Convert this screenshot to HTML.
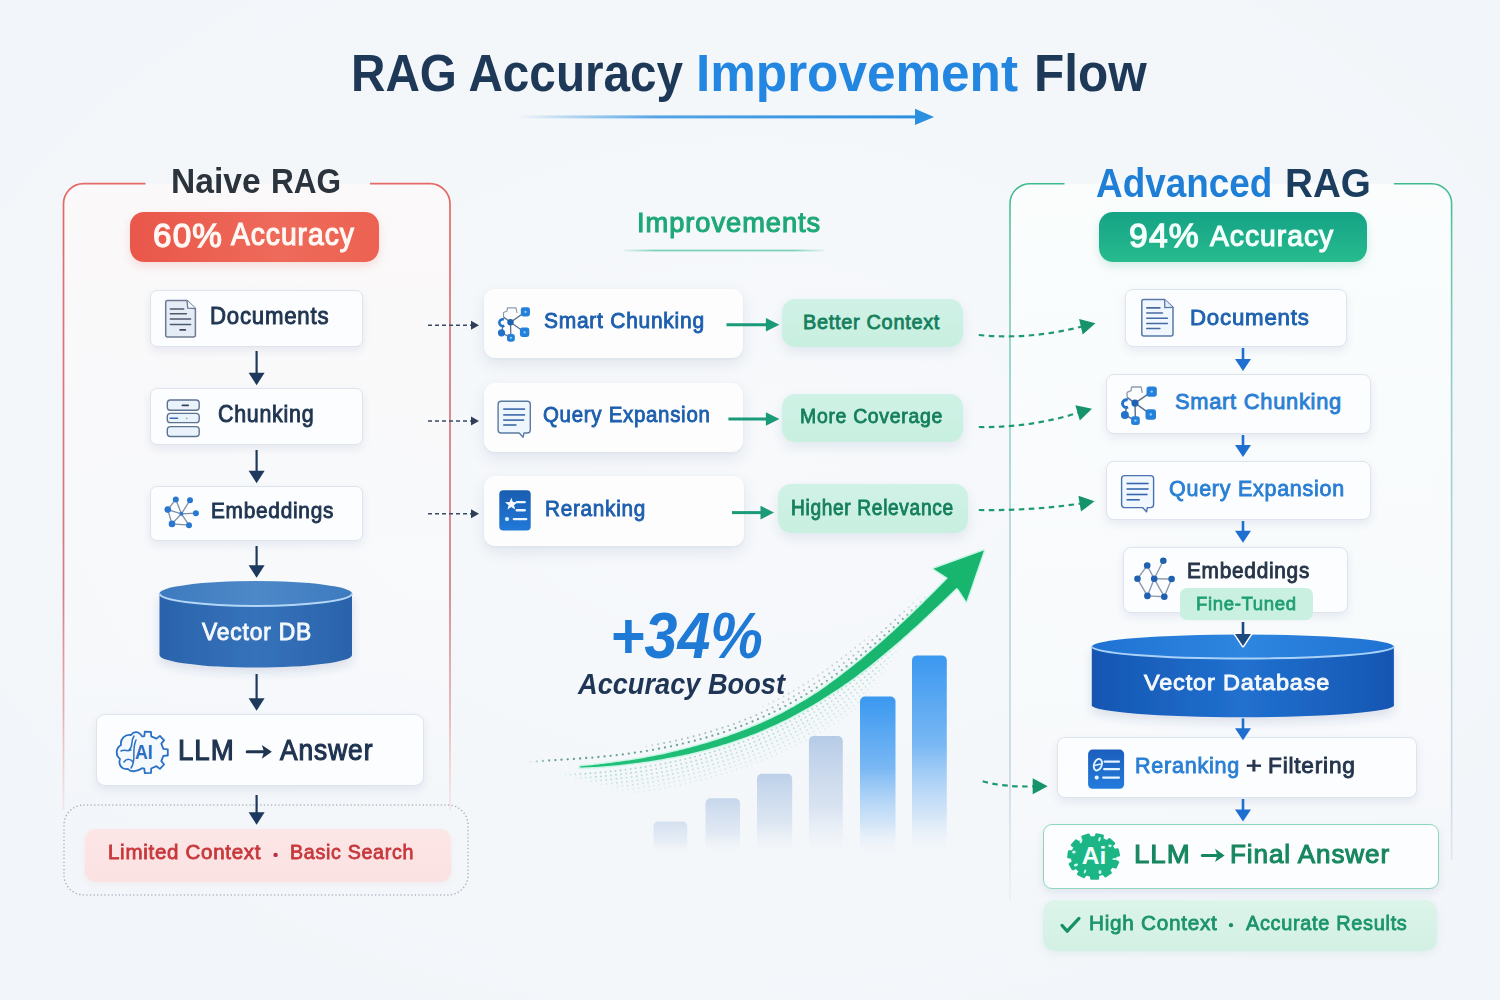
<!DOCTYPE html>
<html><head><meta charset="utf-8"><title>RAG Accuracy Improvement Flow</title>
<style>
html,body{margin:0;padding:0}
body{width:1500px;height:1000px;overflow:hidden;position:relative;font-family:"Liberation Sans",sans-serif;
 background:radial-gradient(ellipse 1100px 750px at 50% 45%, #f7f9fb 0%, #f4f7fa 50%, #f2f5f9 100%);}
.a{position:absolute}
.t{position:absolute;white-space:pre;line-height:1;transform-origin:0 0}
.box{position:absolute;box-sizing:border-box;background:#fcfdfe;border:1px solid #dde4ee;border-radius:7px;box-shadow:0 4px 10px rgba(40,70,130,.09)}
.card{position:absolute;box-sizing:border-box;background:#fdfdfe;border-radius:11px;box-shadow:0 6px 16px rgba(40,70,130,.10),0 1px 3px rgba(40,70,130,.05)}
.gp{position:absolute;box-sizing:border-box;border-radius:13px;background:linear-gradient(180deg,#d0f2e6,#c8efe0);box-shadow:0 5px 12px rgba(40,90,140,.10)}
svg{position:absolute;left:0;top:0;overflow:visible}

</style></head>
<body>
<svg width="1500" height="1000" viewBox="0 0 1500 1000" style="z-index:0">
<defs>
 <linearGradient id="redB" gradientUnits="userSpaceOnUse" x1="0" y1="183" x2="0" y2="810">
  <stop offset="0" stop-color="#e36a66"/><stop offset="0.3" stop-color="#da7479"/><stop offset="0.65" stop-color="#d27d82"/><stop offset="0.85" stop-color="#e09a9c" stop-opacity="0.75"/><stop offset="1" stop-color="#f0b8b8" stop-opacity="0.25"/>
 </linearGradient>
 <linearGradient id="redFill" gradientUnits="userSpaceOnUse" x1="0" y1="183" x2="0" y2="810">
  <stop offset="0" stop-color="#fdf9f9" stop-opacity="0.8"/><stop offset="0.6" stop-color="#fbfbfc" stop-opacity="0.5"/><stop offset="1" stop-color="#ffffff" stop-opacity="0"/>
 </linearGradient>
 <linearGradient id="grnB" gradientUnits="userSpaceOnUse" x1="0" y1="183" x2="0" y2="900">
  <stop offset="0" stop-color="#3dba8c"/><stop offset="0.1" stop-color="#6cc6ac"/><stop offset="0.3" stop-color="#92d0c6"/><stop offset="0.55" stop-color="#b5d3da"/><stop offset="0.85" stop-color="#ccd9e3"/><stop offset="1" stop-color="#d5dfe8" stop-opacity="0.3"/>
 </linearGradient>
 <linearGradient id="grnFill" gradientUnits="userSpaceOnUse" x1="0" y1="183" x2="0" y2="900">
  <stop offset="0" stop-color="#fbfefd" stop-opacity="0.9"/><stop offset="0.7" stop-color="#fafcfd" stop-opacity="0.6"/><stop offset="1" stop-color="#ffffff" stop-opacity="0"/>
 </linearGradient>
 <linearGradient id="ttlArr" x1="0" y1="0" x2="1" y2="0">
  <stop offset="0" stop-color="#2a8fe0" stop-opacity="0"/><stop offset="0.35" stop-color="#2a8fe0" stop-opacity="0.8"/><stop offset="1" stop-color="#2a8fe0"/>
 </linearGradient>
 <linearGradient id="impLine" x1="0" y1="0" x2="1" y2="0">
  <stop offset="0" stop-color="#8fd8c0" stop-opacity="0.2"/><stop offset="0.15" stop-color="#7fd2b8"/><stop offset="0.85" stop-color="#7fd2b8"/><stop offset="1" stop-color="#8fd8c0" stop-opacity="0.2"/>
 </linearGradient>
 <linearGradient id="barG" x1="0" y1="0" x2="0" y2="1">
  <stop offset="0" stop-color="#b3c9e6"/><stop offset="0.6" stop-color="#cbd9ec" stop-opacity="0.7"/><stop offset="1" stop-color="#e8eef6" stop-opacity="0"/>
 </linearGradient>
 <linearGradient id="barB" x1="0" y1="0" x2="0" y2="1">
  <stop offset="0" stop-color="#3a98f0"/><stop offset="0.45" stop-color="#7ab8f4"/><stop offset="0.8" stop-color="#c6def7" stop-opacity="0.7"/><stop offset="1" stop-color="#eef3f9" stop-opacity="0"/>
 </linearGradient>
 <linearGradient id="gArr" gradientUnits="userSpaceOnUse" x1="580" y1="0" x2="960" y2="0">
  <stop offset="0" stop-color="#22c07a"/><stop offset="1" stop-color="#17b36c"/>
 </linearGradient>
 <linearGradient id="cylL" x1="0" y1="0" x2="1" y2="0">
  <stop offset="0" stop-color="#2a63ab"/><stop offset="0.5" stop-color="#3572ba"/><stop offset="1" stop-color="#2a63ab"/>
 </linearGradient>
 <linearGradient id="cylLt" x1="0" y1="0" x2="1" y2="0">
  <stop offset="0" stop-color="#3d7abf"/><stop offset="0.5" stop-color="#4d89c8"/><stop offset="1" stop-color="#3d7abf"/>
 </linearGradient>
 <linearGradient id="cylR" x1="0" y1="0" x2="1" y2="0">
  <stop offset="0" stop-color="#1556b2"/><stop offset="0.5" stop-color="#2170cf"/><stop offset="1" stop-color="#1556b2"/>
 </linearGradient>
 <linearGradient id="cylRt" x1="0" y1="0" x2="1" y2="0">
  <stop offset="0" stop-color="#1f72d2"/><stop offset="0.5" stop-color="#2e86e0"/><stop offset="1" stop-color="#1f72d2"/>
 </linearGradient>
 <filter id="sh" x="-20%" y="-20%" width="140%" height="160%"><feDropShadow dx="0" dy="5" stdDeviation="5" flood-color="#2a4a80" flood-opacity="0.14"/></filter>
</defs>
<!-- panels -->
<path d="M145.5,183.7 H83.5 A20,20 0 0 0 63.5,203.7 V810 H450 V203.7 A20,20 0 0 0 430,183.7 H370 Z" fill="url(#redFill)"/>
<path d="M145.5,183.7 H83.5 A20,20 0 0 0 63.5,203.7 V810" fill="none" stroke="url(#redB)" stroke-width="1.7"/>
<path d="M370,183.7 H430 A20,20 0 0 1 450,203.7 V810" fill="none" stroke="url(#redB)" stroke-width="1.7"/>
<path d="M1064.5,183.7 H1030 A20,20 0 0 0 1010,203.7 V900 H1451.6 V203.7 A20,20 0 0 0 1431.6,183.7 H1394 Z" fill="url(#grnFill)"/>
<path d="M1064.5,183.7 H1030 A20,20 0 0 0 1010,203.7 V900" fill="none" stroke="url(#grnB)" stroke-width="1.6"/>
<path d="M1394,183.7 H1431.6 A20,20 0 0 1 1451.6,203.7 V860" fill="none" stroke="url(#grnB)" stroke-width="1.6"/>
<rect x="64" y="805" width="404" height="90" rx="20" fill="none" stroke="#a3adba" stroke-width="1.5" stroke-dasharray="0.01 3.6" stroke-linecap="round"/>
<!-- title arrow -->
<rect x="516" y="115.4" width="402" height="3" fill="url(#ttlArr)"/>
<path d="M915,108.7 L934,116.9 L915,125.1 Z" fill="#2a8fe0"/>
<!-- improvements underline -->
<rect x="624" y="249.6" width="200" height="1.8" fill="url(#impLine)"/>
<!-- bars -->
<rect x="653.6" y="821.4" width="33.7" height="33" rx="5" fill="url(#barG)" opacity="0.5"/>
<rect x="705.5" y="798.3" width="34.5" height="56" rx="5" fill="url(#barG)" opacity="0.7"/>
<rect x="757" y="773.7" width="35.2" height="81" rx="5" fill="url(#barG)" opacity="0.85"/>
<rect x="808.9" y="736.1" width="33.9" height="119" rx="5" fill="url(#barG)" opacity="0.95"/>
<rect x="860" y="696.5" width="35.5" height="160" rx="5" fill="url(#barB)"/>
<rect x="912" y="655.4" width="34.8" height="200" rx="5" fill="url(#barB)"/>
<!-- curve dots + arrow -->
<circle cx="530.6" cy="761.8" r="1.15" fill="#3f8a72" opacity="0.11"/>
<circle cx="536.8" cy="761.4" r="1.15" fill="#3f8a72" opacity="0.32"/>
<circle cx="543.0" cy="760.9" r="1.15" fill="#3f8a72" opacity="0.52"/>
<circle cx="549.2" cy="760.5" r="1.15" fill="#3f8a72" opacity="0.73"/>
<circle cx="555.4" cy="760.1" r="1.15" fill="#3f8a72" opacity="0.83"/>
<circle cx="561.5" cy="759.7" r="1.15" fill="#3f8a72" opacity="0.83"/>
<circle cx="567.7" cy="759.3" r="1.15" fill="#3f8a72" opacity="0.83"/>
<circle cx="573.9" cy="758.9" r="1.15" fill="#3f8a72" opacity="0.82"/>
<circle cx="580.1" cy="758.5" r="1.15" fill="#3f8a72" opacity="0.82"/>
<circle cx="586.2" cy="758.0" r="1.15" fill="#3f8a72" opacity="0.81"/>
<circle cx="592.3" cy="757.6" r="1.15" fill="#3f8a72" opacity="0.81"/>
<circle cx="598.4" cy="757.0" r="1.15" fill="#3f8a72" opacity="0.81"/>
<circle cx="604.5" cy="756.4" r="1.15" fill="#3f8a72" opacity="0.80"/>
<circle cx="610.6" cy="755.8" r="1.15" fill="#3f8a72" opacity="0.80"/>
<circle cx="616.7" cy="755.1" r="1.15" fill="#3f8a72" opacity="0.79"/>
<circle cx="622.8" cy="754.4" r="1.15" fill="#3f8a72" opacity="0.79"/>
<circle cx="628.8" cy="753.6" r="1.15" fill="#3f8a72" opacity="0.79"/>
<circle cx="634.9" cy="752.7" r="1.15" fill="#3f8a72" opacity="0.78"/>
<circle cx="641.0" cy="751.8" r="1.15" fill="#3f8a72" opacity="0.78"/>
<circle cx="647.0" cy="750.8" r="1.15" fill="#3f8a72" opacity="0.78"/>
<circle cx="653.0" cy="749.8" r="1.15" fill="#3f8a72" opacity="0.77"/>
<circle cx="659.0" cy="748.7" r="1.15" fill="#3f8a72" opacity="0.77"/>
<circle cx="665.0" cy="747.5" r="1.15" fill="#3f8a72" opacity="0.76"/>
<circle cx="671.0" cy="746.3" r="1.15" fill="#3f8a72" opacity="0.76"/>
<circle cx="677.0" cy="745.0" r="1.15" fill="#3f8a72" opacity="0.76"/>
<circle cx="682.9" cy="743.6" r="1.15" fill="#3f8a72" opacity="0.75"/>
<circle cx="688.8" cy="742.2" r="1.15" fill="#3f8a72" opacity="0.75"/>
<circle cx="694.8" cy="740.7" r="1.15" fill="#3f8a72" opacity="0.75"/>
<circle cx="700.6" cy="739.1" r="1.15" fill="#3f8a72" opacity="0.74"/>
<circle cx="706.5" cy="737.5" r="1.15" fill="#3f8a72" opacity="0.74"/>
<circle cx="712.4" cy="735.7" r="1.15" fill="#3f8a72" opacity="0.74"/>
<circle cx="718.2" cy="733.9" r="1.15" fill="#3f8a72" opacity="0.73"/>
<circle cx="724.0" cy="732.1" r="1.15" fill="#3f8a72" opacity="0.73"/>
<circle cx="729.7" cy="730.1" r="1.15" fill="#3f8a72" opacity="0.72"/>
<circle cx="735.5" cy="728.1" r="1.15" fill="#3f8a72" opacity="0.72"/>
<circle cx="741.2" cy="726.0" r="1.15" fill="#3f8a72" opacity="0.72"/>
<circle cx="746.8" cy="723.8" r="1.15" fill="#3f8a72" opacity="0.71"/>
<circle cx="752.5" cy="721.5" r="1.15" fill="#3f8a72" opacity="0.71"/>
<circle cx="758.0" cy="719.2" r="1.15" fill="#3f8a72" opacity="0.71"/>
<circle cx="763.6" cy="716.7" r="1.15" fill="#3f8a72" opacity="0.70"/>
<circle cx="769.1" cy="714.2" r="1.15" fill="#3f8a72" opacity="0.70"/>
<circle cx="774.6" cy="711.6" r="1.15" fill="#3f8a72" opacity="0.70"/>
<circle cx="780.0" cy="708.9" r="1.15" fill="#3f8a72" opacity="0.69"/>
<circle cx="785.4" cy="706.1" r="1.15" fill="#3f8a72" opacity="0.69"/>
<circle cx="790.7" cy="703.2" r="1.15" fill="#3f8a72" opacity="0.69"/>
<circle cx="796.0" cy="700.2" r="1.15" fill="#3f8a72" opacity="0.68"/>
<circle cx="801.3" cy="697.2" r="1.15" fill="#3f8a72" opacity="0.68"/>
<circle cx="806.5" cy="694.1" r="1.15" fill="#3f8a72" opacity="0.68"/>
<circle cx="811.6" cy="690.9" r="1.15" fill="#3f8a72" opacity="0.67"/>
<circle cx="816.8" cy="687.6" r="1.15" fill="#3f8a72" opacity="0.67"/>
<circle cx="821.8" cy="684.2" r="1.15" fill="#3f8a72" opacity="0.67"/>
<circle cx="826.9" cy="680.8" r="1.15" fill="#3f8a72" opacity="0.66"/>
<circle cx="831.9" cy="677.3" r="1.15" fill="#3f8a72" opacity="0.66"/>
<circle cx="836.8" cy="673.8" r="1.15" fill="#3f8a72" opacity="0.66"/>
<circle cx="841.8" cy="670.2" r="1.15" fill="#3f8a72" opacity="0.65"/>
<circle cx="846.6" cy="666.5" r="1.15" fill="#3f8a72" opacity="0.65"/>
<circle cx="851.5" cy="662.8" r="1.15" fill="#3f8a72" opacity="0.65"/>
<circle cx="856.3" cy="659.0" r="1.15" fill="#3f8a72" opacity="0.65"/>
<circle cx="861.1" cy="655.2" r="1.15" fill="#3f8a72" opacity="0.64"/>
<circle cx="865.8" cy="651.3" r="1.15" fill="#3f8a72" opacity="0.64"/>
<circle cx="870.5" cy="647.4" r="1.15" fill="#3f8a72" opacity="0.64"/>
<circle cx="875.2" cy="643.4" r="1.15" fill="#3f8a72" opacity="0.63"/>
<circle cx="879.9" cy="639.4" r="1.15" fill="#3f8a72" opacity="0.63"/>
<circle cx="884.5" cy="635.4" r="1.15" fill="#3f8a72" opacity="0.63"/>
<circle cx="889.1" cy="631.3" r="1.15" fill="#3f8a72" opacity="0.62"/>
<circle cx="893.7" cy="627.2" r="1.15" fill="#3f8a72" opacity="0.62"/>
<circle cx="898.2" cy="623.1" r="1.15" fill="#3f8a72" opacity="0.62"/>
<circle cx="902.8" cy="618.9" r="1.15" fill="#3f8a72" opacity="0.62"/>
<circle cx="907.3" cy="614.8" r="1.15" fill="#3f8a72" opacity="0.54"/>
<circle cx="911.7" cy="610.5" r="1.15" fill="#3f8a72" opacity="0.43"/>
<circle cx="916.2" cy="606.3" r="1.15" fill="#3f8a72" opacity="0.31"/>
<circle cx="920.7" cy="602.0" r="1.15" fill="#3f8a72" opacity="0.20"/>
<circle cx="925.1" cy="597.7" r="1.15" fill="#3f8a72" opacity="0.10"/>
<circle cx="640.3" cy="747.3" r="1.00" fill="#5d8f85" opacity="0.05"/>
<circle cx="646.2" cy="746.4" r="1.00" fill="#5d8f85" opacity="0.18"/>
<circle cx="652.2" cy="745.3" r="1.00" fill="#5d8f85" opacity="0.32"/>
<circle cx="658.2" cy="744.2" r="1.00" fill="#5d8f85" opacity="0.45"/>
<circle cx="664.1" cy="743.1" r="1.00" fill="#5d8f85" opacity="0.55"/>
<circle cx="670.1" cy="741.9" r="1.00" fill="#5d8f85" opacity="0.54"/>
<circle cx="676.0" cy="740.6" r="1.00" fill="#5d8f85" opacity="0.54"/>
<circle cx="681.9" cy="739.2" r="1.00" fill="#5d8f85" opacity="0.54"/>
<circle cx="687.8" cy="737.8" r="1.00" fill="#5d8f85" opacity="0.54"/>
<circle cx="693.6" cy="736.3" r="1.00" fill="#5d8f85" opacity="0.54"/>
<circle cx="699.5" cy="734.8" r="1.00" fill="#5d8f85" opacity="0.54"/>
<circle cx="705.3" cy="733.1" r="1.00" fill="#5d8f85" opacity="0.54"/>
<circle cx="711.1" cy="731.4" r="1.00" fill="#5d8f85" opacity="0.54"/>
<circle cx="716.8" cy="729.6" r="1.00" fill="#5d8f85" opacity="0.54"/>
<circle cx="722.5" cy="727.8" r="1.00" fill="#5d8f85" opacity="0.54"/>
<circle cx="728.2" cy="725.9" r="1.00" fill="#5d8f85" opacity="0.53"/>
<circle cx="733.9" cy="723.9" r="1.00" fill="#5d8f85" opacity="0.53"/>
<circle cx="739.6" cy="721.8" r="1.00" fill="#5d8f85" opacity="0.53"/>
<circle cx="745.2" cy="719.6" r="1.00" fill="#5d8f85" opacity="0.53"/>
<circle cx="750.7" cy="717.4" r="1.00" fill="#5d8f85" opacity="0.53"/>
<circle cx="756.3" cy="715.0" r="1.00" fill="#5d8f85" opacity="0.53"/>
<circle cx="761.8" cy="712.6" r="1.00" fill="#5d8f85" opacity="0.53"/>
<circle cx="767.2" cy="710.1" r="1.00" fill="#5d8f85" opacity="0.53"/>
<circle cx="772.6" cy="707.5" r="1.00" fill="#5d8f85" opacity="0.53"/>
<circle cx="778.0" cy="704.9" r="1.00" fill="#5d8f85" opacity="0.53"/>
<circle cx="783.3" cy="702.1" r="1.00" fill="#5d8f85" opacity="0.52"/>
<circle cx="788.6" cy="699.3" r="1.00" fill="#5d8f85" opacity="0.52"/>
<circle cx="793.8" cy="696.3" r="1.00" fill="#5d8f85" opacity="0.52"/>
<circle cx="799.0" cy="693.3" r="1.00" fill="#5d8f85" opacity="0.52"/>
<circle cx="804.1" cy="690.2" r="1.00" fill="#5d8f85" opacity="0.52"/>
<circle cx="809.2" cy="687.1" r="1.00" fill="#5d8f85" opacity="0.52"/>
<circle cx="814.3" cy="683.8" r="1.00" fill="#5d8f85" opacity="0.52"/>
<circle cx="819.3" cy="680.5" r="1.00" fill="#5d8f85" opacity="0.52"/>
<circle cx="824.3" cy="677.1" r="1.00" fill="#5d8f85" opacity="0.52"/>
<circle cx="829.3" cy="673.6" r="1.00" fill="#5d8f85" opacity="0.52"/>
<circle cx="834.2" cy="670.1" r="1.00" fill="#5d8f85" opacity="0.52"/>
<circle cx="839.1" cy="666.5" r="1.00" fill="#5d8f85" opacity="0.51"/>
<circle cx="843.9" cy="662.9" r="1.00" fill="#5d8f85" opacity="0.51"/>
<circle cx="848.7" cy="659.2" r="1.00" fill="#5d8f85" opacity="0.51"/>
<circle cx="853.5" cy="655.5" r="1.00" fill="#5d8f85" opacity="0.51"/>
<circle cx="858.3" cy="651.7" r="1.00" fill="#5d8f85" opacity="0.51"/>
<circle cx="863.0" cy="647.8" r="1.00" fill="#5d8f85" opacity="0.51"/>
<circle cx="867.7" cy="643.9" r="1.00" fill="#5d8f85" opacity="0.51"/>
<circle cx="872.3" cy="640.0" r="1.00" fill="#5d8f85" opacity="0.51"/>
<circle cx="876.9" cy="636.0" r="1.00" fill="#5d8f85" opacity="0.51"/>
<circle cx="881.5" cy="632.0" r="1.00" fill="#5d8f85" opacity="0.51"/>
<circle cx="886.1" cy="628.0" r="1.00" fill="#5d8f85" opacity="0.51"/>
<circle cx="890.7" cy="623.9" r="1.00" fill="#5d8f85" opacity="0.51"/>
<circle cx="895.2" cy="619.8" r="1.00" fill="#5d8f85" opacity="0.50"/>
<circle cx="899.7" cy="615.6" r="1.00" fill="#5d8f85" opacity="0.43"/>
<circle cx="904.2" cy="611.5" r="1.00" fill="#5d8f85" opacity="0.34"/>
<circle cx="908.7" cy="607.3" r="1.00" fill="#5d8f85" opacity="0.25"/>
<circle cx="913.1" cy="603.0" r="1.00" fill="#5d8f85" opacity="0.16"/>
<circle cx="917.5" cy="598.8" r="1.00" fill="#5d8f85" opacity="0.07"/>
<circle cx="758.0" cy="708.8" r="0.90" fill="#7a9a95" opacity="0.07"/>
<circle cx="763.2" cy="706.5" r="0.90" fill="#7a9a95" opacity="0.15"/>
<circle cx="768.4" cy="704.0" r="0.90" fill="#7a9a95" opacity="0.23"/>
<circle cx="773.5" cy="701.5" r="0.90" fill="#7a9a95" opacity="0.32"/>
<circle cx="778.6" cy="698.9" r="0.90" fill="#7a9a95" opacity="0.37"/>
<circle cx="783.6" cy="696.3" r="0.90" fill="#7a9a95" opacity="0.37"/>
<circle cx="788.7" cy="693.5" r="0.90" fill="#7a9a95" opacity="0.38"/>
<circle cx="793.6" cy="690.7" r="0.90" fill="#7a9a95" opacity="0.38"/>
<circle cx="798.6" cy="687.7" r="0.90" fill="#7a9a95" opacity="0.39"/>
<circle cx="803.5" cy="684.8" r="0.90" fill="#7a9a95" opacity="0.39"/>
<circle cx="808.3" cy="681.7" r="0.90" fill="#7a9a95" opacity="0.39"/>
<circle cx="813.2" cy="678.6" r="0.90" fill="#7a9a95" opacity="0.40"/>
<circle cx="818.0" cy="675.4" r="0.90" fill="#7a9a95" opacity="0.40"/>
<circle cx="822.8" cy="672.1" r="0.90" fill="#7a9a95" opacity="0.41"/>
<circle cx="827.5" cy="668.8" r="0.90" fill="#7a9a95" opacity="0.41"/>
<circle cx="832.2" cy="665.4" r="0.90" fill="#7a9a95" opacity="0.41"/>
<circle cx="836.9" cy="662.0" r="0.90" fill="#7a9a95" opacity="0.42"/>
<circle cx="841.5" cy="658.5" r="0.90" fill="#7a9a95" opacity="0.42"/>
<circle cx="846.1" cy="654.9" r="0.90" fill="#7a9a95" opacity="0.42"/>
<circle cx="850.7" cy="651.3" r="0.90" fill="#7a9a95" opacity="0.43"/>
<circle cx="855.3" cy="647.7" r="0.90" fill="#7a9a95" opacity="0.40"/>
<circle cx="859.8" cy="644.0" r="0.90" fill="#7a9a95" opacity="0.33"/>
<circle cx="864.3" cy="640.2" r="0.90" fill="#7a9a95" opacity="0.25"/>
<circle cx="868.8" cy="636.5" r="0.90" fill="#7a9a95" opacity="0.17"/>
<circle cx="873.2" cy="632.6" r="0.90" fill="#7a9a95" opacity="0.09"/>
<circle cx="565.4" cy="775.0" r="0.95" fill="#6fc3a8" opacity="0.12"/>
<circle cx="570.4" cy="774.7" r="0.95" fill="#6fc3a8" opacity="0.24"/>
<circle cx="575.3" cy="774.3" r="0.95" fill="#6fc3a8" opacity="0.35"/>
<circle cx="580.3" cy="774.0" r="0.95" fill="#6fc3a8" opacity="0.47"/>
<circle cx="585.4" cy="773.7" r="0.95" fill="#6fc3a8" opacity="0.59"/>
<circle cx="590.4" cy="773.3" r="0.95" fill="#6fc3a8" opacity="0.59"/>
<circle cx="595.4" cy="772.9" r="0.95" fill="#6fc3a8" opacity="0.59"/>
<circle cx="600.5" cy="772.4" r="0.95" fill="#6fc3a8" opacity="0.59"/>
<circle cx="605.5" cy="771.9" r="0.95" fill="#6fc3a8" opacity="0.59"/>
<circle cx="610.5" cy="771.4" r="0.95" fill="#6fc3a8" opacity="0.59"/>
<circle cx="615.5" cy="770.9" r="0.95" fill="#6fc3a8" opacity="0.58"/>
<circle cx="620.5" cy="770.3" r="0.95" fill="#6fc3a8" opacity="0.58"/>
<circle cx="625.5" cy="769.6" r="0.95" fill="#6fc3a8" opacity="0.58"/>
<circle cx="630.6" cy="769.0" r="0.95" fill="#6fc3a8" opacity="0.58"/>
<circle cx="635.6" cy="768.3" r="0.95" fill="#6fc3a8" opacity="0.58"/>
<circle cx="640.6" cy="767.5" r="0.95" fill="#6fc3a8" opacity="0.58"/>
<circle cx="645.6" cy="766.7" r="0.95" fill="#6fc3a8" opacity="0.58"/>
<circle cx="650.5" cy="765.9" r="0.95" fill="#6fc3a8" opacity="0.57"/>
<circle cx="655.5" cy="765.1" r="0.95" fill="#6fc3a8" opacity="0.57"/>
<circle cx="660.5" cy="764.2" r="0.95" fill="#6fc3a8" opacity="0.57"/>
<circle cx="665.5" cy="763.2" r="0.95" fill="#6fc3a8" opacity="0.57"/>
<circle cx="670.4" cy="762.2" r="0.95" fill="#6fc3a8" opacity="0.57"/>
<circle cx="675.4" cy="761.2" r="0.95" fill="#6fc3a8" opacity="0.57"/>
<circle cx="680.3" cy="760.1" r="0.95" fill="#6fc3a8" opacity="0.57"/>
<circle cx="685.3" cy="759.0" r="0.95" fill="#6fc3a8" opacity="0.56"/>
<circle cx="690.2" cy="757.8" r="0.95" fill="#6fc3a8" opacity="0.56"/>
<circle cx="695.1" cy="756.6" r="0.95" fill="#6fc3a8" opacity="0.56"/>
<circle cx="700.0" cy="755.3" r="0.95" fill="#6fc3a8" opacity="0.56"/>
<circle cx="704.9" cy="754.0" r="0.95" fill="#6fc3a8" opacity="0.56"/>
<circle cx="709.8" cy="752.6" r="0.95" fill="#6fc3a8" opacity="0.56"/>
<circle cx="714.7" cy="751.2" r="0.95" fill="#6fc3a8" opacity="0.56"/>
<circle cx="719.5" cy="749.7" r="0.95" fill="#6fc3a8" opacity="0.55"/>
<circle cx="724.4" cy="748.2" r="0.95" fill="#6fc3a8" opacity="0.55"/>
<circle cx="729.2" cy="746.7" r="0.95" fill="#6fc3a8" opacity="0.55"/>
<circle cx="734.0" cy="745.0" r="0.95" fill="#6fc3a8" opacity="0.55"/>
<circle cx="738.8" cy="743.3" r="0.95" fill="#6fc3a8" opacity="0.55"/>
<circle cx="743.6" cy="741.6" r="0.95" fill="#6fc3a8" opacity="0.55"/>
<circle cx="748.3" cy="739.8" r="0.95" fill="#6fc3a8" opacity="0.55"/>
<circle cx="753.1" cy="738.0" r="0.95" fill="#6fc3a8" opacity="0.54"/>
<circle cx="757.8" cy="736.1" r="0.95" fill="#6fc3a8" opacity="0.54"/>
<circle cx="762.5" cy="734.1" r="0.95" fill="#6fc3a8" opacity="0.54"/>
<circle cx="767.2" cy="732.1" r="0.95" fill="#6fc3a8" opacity="0.54"/>
<circle cx="771.8" cy="730.0" r="0.95" fill="#6fc3a8" opacity="0.54"/>
<circle cx="776.4" cy="727.9" r="0.95" fill="#6fc3a8" opacity="0.54"/>
<circle cx="781.0" cy="725.7" r="0.95" fill="#6fc3a8" opacity="0.54"/>
<circle cx="785.6" cy="723.4" r="0.95" fill="#6fc3a8" opacity="0.54"/>
<circle cx="790.1" cy="721.1" r="0.95" fill="#6fc3a8" opacity="0.53"/>
<circle cx="794.6" cy="718.7" r="0.95" fill="#6fc3a8" opacity="0.53"/>
<circle cx="799.1" cy="716.3" r="0.95" fill="#6fc3a8" opacity="0.53"/>
<circle cx="803.5" cy="713.8" r="0.95" fill="#6fc3a8" opacity="0.53"/>
<circle cx="807.9" cy="711.3" r="0.95" fill="#6fc3a8" opacity="0.53"/>
<circle cx="812.3" cy="708.7" r="0.95" fill="#6fc3a8" opacity="0.53"/>
<circle cx="816.6" cy="706.0" r="0.95" fill="#6fc3a8" opacity="0.53"/>
<circle cx="820.9" cy="703.3" r="0.95" fill="#6fc3a8" opacity="0.53"/>
<circle cx="825.2" cy="700.6" r="0.95" fill="#6fc3a8" opacity="0.52"/>
<circle cx="829.4" cy="697.8" r="0.95" fill="#6fc3a8" opacity="0.52"/>
<circle cx="833.7" cy="694.9" r="0.95" fill="#6fc3a8" opacity="0.52"/>
<circle cx="837.8" cy="692.1" r="0.95" fill="#6fc3a8" opacity="0.52"/>
<circle cx="842.0" cy="689.2" r="0.95" fill="#6fc3a8" opacity="0.52"/>
<circle cx="846.1" cy="686.2" r="0.95" fill="#6fc3a8" opacity="0.52"/>
<circle cx="850.2" cy="683.2" r="0.95" fill="#6fc3a8" opacity="0.52"/>
<circle cx="854.2" cy="680.2" r="0.95" fill="#6fc3a8" opacity="0.52"/>
<circle cx="858.3" cy="677.1" r="0.95" fill="#6fc3a8" opacity="0.51"/>
<circle cx="862.3" cy="674.0" r="0.95" fill="#6fc3a8" opacity="0.51"/>
<circle cx="866.2" cy="670.9" r="0.95" fill="#6fc3a8" opacity="0.51"/>
<circle cx="870.2" cy="667.7" r="0.95" fill="#6fc3a8" opacity="0.51"/>
<circle cx="874.1" cy="664.6" r="0.95" fill="#6fc3a8" opacity="0.51"/>
<circle cx="878.0" cy="661.3" r="0.95" fill="#6fc3a8" opacity="0.51"/>
<circle cx="881.9" cy="658.1" r="0.95" fill="#6fc3a8" opacity="0.51"/>
<circle cx="885.7" cy="654.8" r="0.95" fill="#6fc3a8" opacity="0.48"/>
<circle cx="889.6" cy="651.6" r="0.95" fill="#6fc3a8" opacity="0.40"/>
<circle cx="893.4" cy="648.3" r="0.95" fill="#6fc3a8" opacity="0.33"/>
<circle cx="897.2" cy="644.9" r="0.95" fill="#6fc3a8" opacity="0.25"/>
<circle cx="900.9" cy="641.6" r="0.95" fill="#6fc3a8" opacity="0.18"/>
<circle cx="904.7" cy="638.2" r="0.95" fill="#6fc3a8" opacity="0.10"/>
<circle cx="908.4" cy="634.8" r="0.95" fill="#6fc3a8" opacity="0.03"/>
<circle cx="575.6" cy="778.3" r="0.95" fill="#6fc3a8" opacity="0.10"/>
<circle cx="580.6" cy="778.0" r="0.95" fill="#6fc3a8" opacity="0.21"/>
<circle cx="585.7" cy="777.6" r="0.95" fill="#6fc3a8" opacity="0.31"/>
<circle cx="590.7" cy="777.3" r="0.95" fill="#6fc3a8" opacity="0.42"/>
<circle cx="595.8" cy="776.8" r="0.95" fill="#6fc3a8" opacity="0.52"/>
<circle cx="600.8" cy="776.4" r="0.95" fill="#6fc3a8" opacity="0.52"/>
<circle cx="605.9" cy="775.9" r="0.95" fill="#6fc3a8" opacity="0.52"/>
<circle cx="610.9" cy="775.4" r="0.95" fill="#6fc3a8" opacity="0.52"/>
<circle cx="616.0" cy="774.8" r="0.95" fill="#6fc3a8" opacity="0.52"/>
<circle cx="621.0" cy="774.2" r="0.95" fill="#6fc3a8" opacity="0.52"/>
<circle cx="626.1" cy="773.6" r="0.95" fill="#6fc3a8" opacity="0.51"/>
<circle cx="631.1" cy="772.9" r="0.95" fill="#6fc3a8" opacity="0.51"/>
<circle cx="636.1" cy="772.2" r="0.95" fill="#6fc3a8" opacity="0.51"/>
<circle cx="641.2" cy="771.5" r="0.95" fill="#6fc3a8" opacity="0.51"/>
<circle cx="646.2" cy="770.7" r="0.95" fill="#6fc3a8" opacity="0.51"/>
<circle cx="651.2" cy="769.9" r="0.95" fill="#6fc3a8" opacity="0.51"/>
<circle cx="656.2" cy="769.0" r="0.95" fill="#6fc3a8" opacity="0.51"/>
<circle cx="661.2" cy="768.1" r="0.95" fill="#6fc3a8" opacity="0.51"/>
<circle cx="666.2" cy="767.1" r="0.95" fill="#6fc3a8" opacity="0.50"/>
<circle cx="671.2" cy="766.1" r="0.95" fill="#6fc3a8" opacity="0.50"/>
<circle cx="676.2" cy="765.1" r="0.95" fill="#6fc3a8" opacity="0.50"/>
<circle cx="681.2" cy="764.0" r="0.95" fill="#6fc3a8" opacity="0.50"/>
<circle cx="686.2" cy="762.9" r="0.95" fill="#6fc3a8" opacity="0.50"/>
<circle cx="691.2" cy="761.7" r="0.95" fill="#6fc3a8" opacity="0.50"/>
<circle cx="696.1" cy="760.5" r="0.95" fill="#6fc3a8" opacity="0.50"/>
<circle cx="701.1" cy="759.2" r="0.95" fill="#6fc3a8" opacity="0.49"/>
<circle cx="706.0" cy="757.9" r="0.95" fill="#6fc3a8" opacity="0.49"/>
<circle cx="710.9" cy="756.5" r="0.95" fill="#6fc3a8" opacity="0.49"/>
<circle cx="715.8" cy="755.0" r="0.95" fill="#6fc3a8" opacity="0.49"/>
<circle cx="720.7" cy="753.6" r="0.95" fill="#6fc3a8" opacity="0.49"/>
<circle cx="725.6" cy="752.0" r="0.95" fill="#6fc3a8" opacity="0.49"/>
<circle cx="730.5" cy="750.4" r="0.95" fill="#6fc3a8" opacity="0.49"/>
<circle cx="735.3" cy="748.8" r="0.95" fill="#6fc3a8" opacity="0.49"/>
<circle cx="740.2" cy="747.1" r="0.95" fill="#6fc3a8" opacity="0.48"/>
<circle cx="745.0" cy="745.4" r="0.95" fill="#6fc3a8" opacity="0.48"/>
<circle cx="749.8" cy="743.6" r="0.95" fill="#6fc3a8" opacity="0.48"/>
<circle cx="754.6" cy="741.7" r="0.95" fill="#6fc3a8" opacity="0.48"/>
<circle cx="759.3" cy="739.8" r="0.95" fill="#6fc3a8" opacity="0.48"/>
<circle cx="764.1" cy="737.8" r="0.95" fill="#6fc3a8" opacity="0.48"/>
<circle cx="768.8" cy="735.8" r="0.95" fill="#6fc3a8" opacity="0.48"/>
<circle cx="773.5" cy="733.7" r="0.95" fill="#6fc3a8" opacity="0.48"/>
<circle cx="778.1" cy="731.5" r="0.95" fill="#6fc3a8" opacity="0.47"/>
<circle cx="782.8" cy="729.3" r="0.95" fill="#6fc3a8" opacity="0.47"/>
<circle cx="787.4" cy="727.0" r="0.95" fill="#6fc3a8" opacity="0.47"/>
<circle cx="792.0" cy="724.7" r="0.95" fill="#6fc3a8" opacity="0.47"/>
<circle cx="796.5" cy="722.3" r="0.95" fill="#6fc3a8" opacity="0.47"/>
<circle cx="801.0" cy="719.8" r="0.95" fill="#6fc3a8" opacity="0.47"/>
<circle cx="805.5" cy="717.3" r="0.95" fill="#6fc3a8" opacity="0.47"/>
<circle cx="810.0" cy="714.7" r="0.95" fill="#6fc3a8" opacity="0.47"/>
<circle cx="814.4" cy="712.1" r="0.95" fill="#6fc3a8" opacity="0.46"/>
<circle cx="818.7" cy="709.4" r="0.95" fill="#6fc3a8" opacity="0.46"/>
<circle cx="823.1" cy="706.7" r="0.95" fill="#6fc3a8" opacity="0.46"/>
<circle cx="827.4" cy="703.9" r="0.95" fill="#6fc3a8" opacity="0.46"/>
<circle cx="831.7" cy="701.1" r="0.95" fill="#6fc3a8" opacity="0.46"/>
<circle cx="835.9" cy="698.3" r="0.95" fill="#6fc3a8" opacity="0.46"/>
<circle cx="840.1" cy="695.4" r="0.95" fill="#6fc3a8" opacity="0.46"/>
<circle cx="844.3" cy="692.4" r="0.95" fill="#6fc3a8" opacity="0.46"/>
<circle cx="848.4" cy="689.4" r="0.95" fill="#6fc3a8" opacity="0.46"/>
<circle cx="852.6" cy="686.4" r="0.95" fill="#6fc3a8" opacity="0.45"/>
<circle cx="856.6" cy="683.4" r="0.95" fill="#6fc3a8" opacity="0.45"/>
<circle cx="860.7" cy="680.3" r="0.95" fill="#6fc3a8" opacity="0.45"/>
<circle cx="864.7" cy="677.2" r="0.95" fill="#6fc3a8" opacity="0.45"/>
<circle cx="868.7" cy="674.0" r="0.95" fill="#6fc3a8" opacity="0.45"/>
<circle cx="872.7" cy="670.9" r="0.95" fill="#6fc3a8" opacity="0.45"/>
<circle cx="876.6" cy="667.7" r="0.95" fill="#6fc3a8" opacity="0.45"/>
<circle cx="880.6" cy="664.4" r="0.95" fill="#6fc3a8" opacity="0.42"/>
<circle cx="884.5" cy="661.2" r="0.95" fill="#6fc3a8" opacity="0.35"/>
<circle cx="888.3" cy="657.9" r="0.95" fill="#6fc3a8" opacity="0.28"/>
<circle cx="892.2" cy="654.6" r="0.95" fill="#6fc3a8" opacity="0.21"/>
<circle cx="896.0" cy="651.3" r="0.95" fill="#6fc3a8" opacity="0.15"/>
<circle cx="899.8" cy="647.9" r="0.95" fill="#6fc3a8" opacity="0.08"/>
<circle cx="585.9" cy="781.6" r="0.95" fill="#6fc3a8" opacity="0.09"/>
<circle cx="591.0" cy="781.2" r="0.95" fill="#6fc3a8" opacity="0.18"/>
<circle cx="596.1" cy="780.8" r="0.95" fill="#6fc3a8" opacity="0.27"/>
<circle cx="601.2" cy="780.4" r="0.95" fill="#6fc3a8" opacity="0.36"/>
<circle cx="606.3" cy="779.9" r="0.95" fill="#6fc3a8" opacity="0.45"/>
<circle cx="611.3" cy="779.4" r="0.95" fill="#6fc3a8" opacity="0.45"/>
<circle cx="616.4" cy="778.8" r="0.95" fill="#6fc3a8" opacity="0.45"/>
<circle cx="621.5" cy="778.2" r="0.95" fill="#6fc3a8" opacity="0.45"/>
<circle cx="626.6" cy="777.6" r="0.95" fill="#6fc3a8" opacity="0.45"/>
<circle cx="631.6" cy="776.9" r="0.95" fill="#6fc3a8" opacity="0.45"/>
<circle cx="636.7" cy="776.2" r="0.95" fill="#6fc3a8" opacity="0.45"/>
<circle cx="641.8" cy="775.4" r="0.95" fill="#6fc3a8" opacity="0.44"/>
<circle cx="646.8" cy="774.6" r="0.95" fill="#6fc3a8" opacity="0.44"/>
<circle cx="651.9" cy="773.8" r="0.95" fill="#6fc3a8" opacity="0.44"/>
<circle cx="656.9" cy="772.9" r="0.95" fill="#6fc3a8" opacity="0.44"/>
<circle cx="662.0" cy="772.0" r="0.95" fill="#6fc3a8" opacity="0.44"/>
<circle cx="667.0" cy="771.1" r="0.95" fill="#6fc3a8" opacity="0.44"/>
<circle cx="672.0" cy="770.1" r="0.95" fill="#6fc3a8" opacity="0.44"/>
<circle cx="677.1" cy="769.0" r="0.95" fill="#6fc3a8" opacity="0.44"/>
<circle cx="682.1" cy="767.9" r="0.95" fill="#6fc3a8" opacity="0.43"/>
<circle cx="687.1" cy="766.8" r="0.95" fill="#6fc3a8" opacity="0.43"/>
<circle cx="692.1" cy="765.6" r="0.95" fill="#6fc3a8" opacity="0.43"/>
<circle cx="697.1" cy="764.3" r="0.95" fill="#6fc3a8" opacity="0.43"/>
<circle cx="702.1" cy="763.0" r="0.95" fill="#6fc3a8" opacity="0.43"/>
<circle cx="707.0" cy="761.7" r="0.95" fill="#6fc3a8" opacity="0.43"/>
<circle cx="712.0" cy="760.3" r="0.95" fill="#6fc3a8" opacity="0.43"/>
<circle cx="717.0" cy="758.9" r="0.95" fill="#6fc3a8" opacity="0.43"/>
<circle cx="721.9" cy="757.4" r="0.95" fill="#6fc3a8" opacity="0.42"/>
<circle cx="726.8" cy="755.8" r="0.95" fill="#6fc3a8" opacity="0.42"/>
<circle cx="731.7" cy="754.2" r="0.95" fill="#6fc3a8" opacity="0.42"/>
<circle cx="736.6" cy="752.6" r="0.95" fill="#6fc3a8" opacity="0.42"/>
<circle cx="741.5" cy="750.9" r="0.95" fill="#6fc3a8" opacity="0.42"/>
<circle cx="746.4" cy="749.1" r="0.95" fill="#6fc3a8" opacity="0.42"/>
<circle cx="751.2" cy="747.3" r="0.95" fill="#6fc3a8" opacity="0.42"/>
<circle cx="756.0" cy="745.4" r="0.95" fill="#6fc3a8" opacity="0.42"/>
<circle cx="760.8" cy="743.5" r="0.95" fill="#6fc3a8" opacity="0.41"/>
<circle cx="765.6" cy="741.5" r="0.95" fill="#6fc3a8" opacity="0.41"/>
<circle cx="770.4" cy="739.4" r="0.95" fill="#6fc3a8" opacity="0.41"/>
<circle cx="775.1" cy="737.3" r="0.95" fill="#6fc3a8" opacity="0.41"/>
<circle cx="779.8" cy="735.1" r="0.95" fill="#6fc3a8" opacity="0.41"/>
<circle cx="784.5" cy="732.9" r="0.95" fill="#6fc3a8" opacity="0.41"/>
<circle cx="789.2" cy="730.6" r="0.95" fill="#6fc3a8" opacity="0.41"/>
<circle cx="793.8" cy="728.2" r="0.95" fill="#6fc3a8" opacity="0.41"/>
<circle cx="798.4" cy="725.8" r="0.95" fill="#6fc3a8" opacity="0.41"/>
<circle cx="803.0" cy="723.3" r="0.95" fill="#6fc3a8" opacity="0.40"/>
<circle cx="807.5" cy="720.8" r="0.95" fill="#6fc3a8" opacity="0.40"/>
<circle cx="812.0" cy="718.2" r="0.95" fill="#6fc3a8" opacity="0.40"/>
<circle cx="816.4" cy="715.5" r="0.95" fill="#6fc3a8" opacity="0.40"/>
<circle cx="820.8" cy="712.8" r="0.95" fill="#6fc3a8" opacity="0.40"/>
<circle cx="825.2" cy="710.1" r="0.95" fill="#6fc3a8" opacity="0.40"/>
<circle cx="829.6" cy="707.3" r="0.95" fill="#6fc3a8" opacity="0.40"/>
<circle cx="833.9" cy="704.4" r="0.95" fill="#6fc3a8" opacity="0.40"/>
<circle cx="838.2" cy="701.6" r="0.95" fill="#6fc3a8" opacity="0.40"/>
<circle cx="842.4" cy="698.6" r="0.95" fill="#6fc3a8" opacity="0.39"/>
<circle cx="846.6" cy="695.7" r="0.95" fill="#6fc3a8" opacity="0.39"/>
<circle cx="850.8" cy="692.7" r="0.95" fill="#6fc3a8" opacity="0.39"/>
<circle cx="854.9" cy="689.6" r="0.95" fill="#6fc3a8" opacity="0.39"/>
<circle cx="859.1" cy="686.6" r="0.95" fill="#6fc3a8" opacity="0.39"/>
<circle cx="863.1" cy="683.5" r="0.95" fill="#6fc3a8" opacity="0.39"/>
<circle cx="867.2" cy="680.3" r="0.95" fill="#6fc3a8" opacity="0.39"/>
<circle cx="871.2" cy="677.2" r="0.95" fill="#6fc3a8" opacity="0.39"/>
<circle cx="875.2" cy="674.0" r="0.95" fill="#6fc3a8" opacity="0.36"/>
<circle cx="879.2" cy="670.8" r="0.95" fill="#6fc3a8" opacity="0.30"/>
<circle cx="883.1" cy="667.5" r="0.95" fill="#6fc3a8" opacity="0.24"/>
<circle cx="887.0" cy="664.2" r="0.95" fill="#6fc3a8" opacity="0.18"/>
<circle cx="890.9" cy="660.9" r="0.95" fill="#6fc3a8" opacity="0.12"/>
<circle cx="894.8" cy="657.6" r="0.95" fill="#6fc3a8" opacity="0.06"/>
<circle cx="596.5" cy="784.8" r="0.95" fill="#6fc3a8" opacity="0.08"/>
<circle cx="601.6" cy="784.4" r="0.95" fill="#6fc3a8" opacity="0.15"/>
<circle cx="606.7" cy="783.9" r="0.95" fill="#6fc3a8" opacity="0.23"/>
<circle cx="611.8" cy="783.3" r="0.95" fill="#6fc3a8" opacity="0.30"/>
<circle cx="616.9" cy="782.8" r="0.95" fill="#6fc3a8" opacity="0.38"/>
<circle cx="622.0" cy="782.2" r="0.95" fill="#6fc3a8" opacity="0.38"/>
<circle cx="627.1" cy="781.5" r="0.95" fill="#6fc3a8" opacity="0.38"/>
<circle cx="632.2" cy="780.9" r="0.95" fill="#6fc3a8" opacity="0.38"/>
<circle cx="637.3" cy="780.1" r="0.95" fill="#6fc3a8" opacity="0.38"/>
<circle cx="642.4" cy="779.4" r="0.95" fill="#6fc3a8" opacity="0.38"/>
<circle cx="647.5" cy="778.6" r="0.95" fill="#6fc3a8" opacity="0.38"/>
<circle cx="652.5" cy="777.8" r="0.95" fill="#6fc3a8" opacity="0.38"/>
<circle cx="657.6" cy="776.9" r="0.95" fill="#6fc3a8" opacity="0.37"/>
<circle cx="662.7" cy="776.0" r="0.95" fill="#6fc3a8" opacity="0.37"/>
<circle cx="667.8" cy="775.0" r="0.95" fill="#6fc3a8" opacity="0.37"/>
<circle cx="672.8" cy="774.0" r="0.95" fill="#6fc3a8" opacity="0.37"/>
<circle cx="677.9" cy="772.9" r="0.95" fill="#6fc3a8" opacity="0.37"/>
<circle cx="683.0" cy="771.8" r="0.95" fill="#6fc3a8" opacity="0.37"/>
<circle cx="688.0" cy="770.7" r="0.95" fill="#6fc3a8" opacity="0.37"/>
<circle cx="693.0" cy="769.5" r="0.95" fill="#6fc3a8" opacity="0.37"/>
<circle cx="698.1" cy="768.2" r="0.95" fill="#6fc3a8" opacity="0.37"/>
<circle cx="703.1" cy="766.9" r="0.95" fill="#6fc3a8" opacity="0.36"/>
<circle cx="708.1" cy="765.6" r="0.95" fill="#6fc3a8" opacity="0.36"/>
<circle cx="713.1" cy="764.2" r="0.95" fill="#6fc3a8" opacity="0.36"/>
<circle cx="718.1" cy="762.7" r="0.95" fill="#6fc3a8" opacity="0.36"/>
<circle cx="723.1" cy="761.2" r="0.95" fill="#6fc3a8" opacity="0.36"/>
<circle cx="728.0" cy="759.7" r="0.95" fill="#6fc3a8" opacity="0.36"/>
<circle cx="733.0" cy="758.0" r="0.95" fill="#6fc3a8" opacity="0.36"/>
<circle cx="737.9" cy="756.4" r="0.95" fill="#6fc3a8" opacity="0.36"/>
<circle cx="742.8" cy="754.7" r="0.95" fill="#6fc3a8" opacity="0.35"/>
<circle cx="747.8" cy="752.9" r="0.95" fill="#6fc3a8" opacity="0.35"/>
<circle cx="752.6" cy="751.0" r="0.95" fill="#6fc3a8" opacity="0.35"/>
<circle cx="757.5" cy="749.1" r="0.95" fill="#6fc3a8" opacity="0.35"/>
<circle cx="762.4" cy="747.2" r="0.95" fill="#6fc3a8" opacity="0.35"/>
<circle cx="767.2" cy="745.2" r="0.95" fill="#6fc3a8" opacity="0.35"/>
<circle cx="772.0" cy="743.1" r="0.95" fill="#6fc3a8" opacity="0.35"/>
<circle cx="776.8" cy="740.9" r="0.95" fill="#6fc3a8" opacity="0.35"/>
<circle cx="781.5" cy="738.7" r="0.95" fill="#6fc3a8" opacity="0.35"/>
<circle cx="786.3" cy="736.5" r="0.95" fill="#6fc3a8" opacity="0.34"/>
<circle cx="791.0" cy="734.2" r="0.95" fill="#6fc3a8" opacity="0.34"/>
<circle cx="795.6" cy="731.8" r="0.95" fill="#6fc3a8" opacity="0.34"/>
<circle cx="800.3" cy="729.3" r="0.95" fill="#6fc3a8" opacity="0.34"/>
<circle cx="804.9" cy="726.8" r="0.95" fill="#6fc3a8" opacity="0.34"/>
<circle cx="809.5" cy="724.2" r="0.95" fill="#6fc3a8" opacity="0.34"/>
<circle cx="814.0" cy="721.6" r="0.95" fill="#6fc3a8" opacity="0.34"/>
<circle cx="818.5" cy="718.9" r="0.95" fill="#6fc3a8" opacity="0.34"/>
<circle cx="823.0" cy="716.2" r="0.95" fill="#6fc3a8" opacity="0.34"/>
<circle cx="827.4" cy="713.4" r="0.95" fill="#6fc3a8" opacity="0.34"/>
<circle cx="831.8" cy="710.6" r="0.95" fill="#6fc3a8" opacity="0.33"/>
<circle cx="836.1" cy="707.8" r="0.95" fill="#6fc3a8" opacity="0.33"/>
<circle cx="840.4" cy="704.9" r="0.95" fill="#6fc3a8" opacity="0.33"/>
<circle cx="844.7" cy="701.9" r="0.95" fill="#6fc3a8" opacity="0.33"/>
<circle cx="848.9" cy="698.9" r="0.95" fill="#6fc3a8" opacity="0.33"/>
<circle cx="853.1" cy="695.9" r="0.95" fill="#6fc3a8" opacity="0.33"/>
<circle cx="857.3" cy="692.9" r="0.95" fill="#6fc3a8" opacity="0.33"/>
<circle cx="861.5" cy="689.8" r="0.95" fill="#6fc3a8" opacity="0.33"/>
<circle cx="865.6" cy="686.6" r="0.95" fill="#6fc3a8" opacity="0.33"/>
<circle cx="869.6" cy="683.5" r="0.95" fill="#6fc3a8" opacity="0.30"/>
<circle cx="873.7" cy="680.3" r="0.95" fill="#6fc3a8" opacity="0.25"/>
<circle cx="877.7" cy="677.1" r="0.95" fill="#6fc3a8" opacity="0.20"/>
<circle cx="881.7" cy="673.8" r="0.95" fill="#6fc3a8" opacity="0.15"/>
<circle cx="885.7" cy="670.6" r="0.95" fill="#6fc3a8" opacity="0.10"/>
<circle cx="889.6" cy="667.3" r="0.95" fill="#6fc3a8" opacity="0.05"/>
<circle cx="607.1" cy="787.8" r="0.95" fill="#6fc3a8" opacity="0.06"/>
<circle cx="612.2" cy="787.3" r="0.95" fill="#6fc3a8" opacity="0.12"/>
<circle cx="617.3" cy="786.7" r="0.95" fill="#6fc3a8" opacity="0.19"/>
<circle cx="622.5" cy="786.1" r="0.95" fill="#6fc3a8" opacity="0.25"/>
<circle cx="627.6" cy="785.5" r="0.95" fill="#6fc3a8" opacity="0.31"/>
<circle cx="632.7" cy="784.8" r="0.95" fill="#6fc3a8" opacity="0.31"/>
<circle cx="637.8" cy="784.1" r="0.95" fill="#6fc3a8" opacity="0.31"/>
<circle cx="643.0" cy="783.3" r="0.95" fill="#6fc3a8" opacity="0.31"/>
<circle cx="648.1" cy="782.5" r="0.95" fill="#6fc3a8" opacity="0.31"/>
<circle cx="653.2" cy="781.7" r="0.95" fill="#6fc3a8" opacity="0.31"/>
<circle cx="658.3" cy="780.8" r="0.95" fill="#6fc3a8" opacity="0.31"/>
<circle cx="663.4" cy="779.9" r="0.95" fill="#6fc3a8" opacity="0.31"/>
<circle cx="668.5" cy="778.9" r="0.95" fill="#6fc3a8" opacity="0.31"/>
<circle cx="673.6" cy="777.9" r="0.95" fill="#6fc3a8" opacity="0.30"/>
<circle cx="678.7" cy="776.8" r="0.95" fill="#6fc3a8" opacity="0.30"/>
<circle cx="683.8" cy="775.7" r="0.95" fill="#6fc3a8" opacity="0.30"/>
<circle cx="688.9" cy="774.6" r="0.95" fill="#6fc3a8" opacity="0.30"/>
<circle cx="694.0" cy="773.3" r="0.95" fill="#6fc3a8" opacity="0.30"/>
<circle cx="699.1" cy="772.1" r="0.95" fill="#6fc3a8" opacity="0.30"/>
<circle cx="704.1" cy="770.8" r="0.95" fill="#6fc3a8" opacity="0.30"/>
<circle cx="709.2" cy="769.4" r="0.95" fill="#6fc3a8" opacity="0.30"/>
<circle cx="714.2" cy="768.0" r="0.95" fill="#6fc3a8" opacity="0.30"/>
<circle cx="719.2" cy="766.6" r="0.95" fill="#6fc3a8" opacity="0.30"/>
<circle cx="724.3" cy="765.0" r="0.95" fill="#6fc3a8" opacity="0.29"/>
<circle cx="729.3" cy="763.5" r="0.95" fill="#6fc3a8" opacity="0.29"/>
<circle cx="734.2" cy="761.8" r="0.95" fill="#6fc3a8" opacity="0.29"/>
<circle cx="739.2" cy="760.2" r="0.95" fill="#6fc3a8" opacity="0.29"/>
<circle cx="744.2" cy="758.4" r="0.95" fill="#6fc3a8" opacity="0.29"/>
<circle cx="749.1" cy="756.6" r="0.95" fill="#6fc3a8" opacity="0.29"/>
<circle cx="754.1" cy="754.8" r="0.95" fill="#6fc3a8" opacity="0.29"/>
<circle cx="759.0" cy="752.9" r="0.95" fill="#6fc3a8" opacity="0.29"/>
<circle cx="763.9" cy="750.9" r="0.95" fill="#6fc3a8" opacity="0.29"/>
<circle cx="768.7" cy="748.8" r="0.95" fill="#6fc3a8" opacity="0.28"/>
<circle cx="773.6" cy="746.7" r="0.95" fill="#6fc3a8" opacity="0.28"/>
<circle cx="778.4" cy="744.6" r="0.95" fill="#6fc3a8" opacity="0.28"/>
<circle cx="783.2" cy="742.4" r="0.95" fill="#6fc3a8" opacity="0.28"/>
<circle cx="788.0" cy="740.1" r="0.95" fill="#6fc3a8" opacity="0.28"/>
<circle cx="792.8" cy="737.7" r="0.95" fill="#6fc3a8" opacity="0.28"/>
<circle cx="797.5" cy="735.3" r="0.95" fill="#6fc3a8" opacity="0.28"/>
<circle cx="802.2" cy="732.8" r="0.95" fill="#6fc3a8" opacity="0.28"/>
<circle cx="806.8" cy="730.3" r="0.95" fill="#6fc3a8" opacity="0.28"/>
<circle cx="811.4" cy="727.7" r="0.95" fill="#6fc3a8" opacity="0.28"/>
<circle cx="816.0" cy="725.1" r="0.95" fill="#6fc3a8" opacity="0.28"/>
<circle cx="820.6" cy="722.4" r="0.95" fill="#6fc3a8" opacity="0.27"/>
<circle cx="825.1" cy="719.6" r="0.95" fill="#6fc3a8" opacity="0.27"/>
<circle cx="829.5" cy="716.8" r="0.95" fill="#6fc3a8" opacity="0.27"/>
<circle cx="833.9" cy="714.0" r="0.95" fill="#6fc3a8" opacity="0.27"/>
<circle cx="838.3" cy="711.1" r="0.95" fill="#6fc3a8" opacity="0.27"/>
<circle cx="842.7" cy="708.2" r="0.95" fill="#6fc3a8" opacity="0.27"/>
<circle cx="847.0" cy="705.2" r="0.95" fill="#6fc3a8" opacity="0.27"/>
<circle cx="851.2" cy="702.2" r="0.95" fill="#6fc3a8" opacity="0.27"/>
<circle cx="855.5" cy="699.2" r="0.95" fill="#6fc3a8" opacity="0.27"/>
<circle cx="859.7" cy="696.1" r="0.95" fill="#6fc3a8" opacity="0.27"/>
<circle cx="863.9" cy="693.0" r="0.95" fill="#6fc3a8" opacity="0.24"/>
<circle cx="868.0" cy="689.8" r="0.95" fill="#6fc3a8" opacity="0.20"/>
<circle cx="872.1" cy="686.6" r="0.95" fill="#6fc3a8" opacity="0.16"/>
<circle cx="876.2" cy="683.4" r="0.95" fill="#6fc3a8" opacity="0.12"/>
<circle cx="880.2" cy="680.2" r="0.95" fill="#6fc3a8" opacity="0.08"/>
<circle cx="884.2" cy="676.9" r="0.95" fill="#6fc3a8" opacity="0.03"/>
<circle cx="617.8" cy="790.7" r="0.95" fill="#6fc3a8" opacity="0.05"/>
<circle cx="622.9" cy="790.1" r="0.95" fill="#6fc3a8" opacity="0.10"/>
<circle cx="628.1" cy="789.5" r="0.95" fill="#6fc3a8" opacity="0.14"/>
<circle cx="633.3" cy="788.8" r="0.95" fill="#6fc3a8" opacity="0.19"/>
<circle cx="638.4" cy="788.1" r="0.95" fill="#6fc3a8" opacity="0.24"/>
<circle cx="643.6" cy="787.3" r="0.95" fill="#6fc3a8" opacity="0.24"/>
<circle cx="648.7" cy="786.5" r="0.95" fill="#6fc3a8" opacity="0.24"/>
<circle cx="653.9" cy="785.6" r="0.95" fill="#6fc3a8" opacity="0.24"/>
<circle cx="659.0" cy="784.7" r="0.95" fill="#6fc3a8" opacity="0.24"/>
<circle cx="664.2" cy="783.8" r="0.95" fill="#6fc3a8" opacity="0.24"/>
<circle cx="669.3" cy="782.8" r="0.95" fill="#6fc3a8" opacity="0.24"/>
<circle cx="674.4" cy="781.8" r="0.95" fill="#6fc3a8" opacity="0.24"/>
<circle cx="679.6" cy="780.7" r="0.95" fill="#6fc3a8" opacity="0.24"/>
<circle cx="684.7" cy="779.6" r="0.95" fill="#6fc3a8" opacity="0.24"/>
<circle cx="689.8" cy="778.5" r="0.95" fill="#6fc3a8" opacity="0.24"/>
<circle cx="694.9" cy="777.2" r="0.95" fill="#6fc3a8" opacity="0.23"/>
<circle cx="700.0" cy="776.0" r="0.95" fill="#6fc3a8" opacity="0.23"/>
<circle cx="705.1" cy="774.7" r="0.95" fill="#6fc3a8" opacity="0.23"/>
<circle cx="710.2" cy="773.3" r="0.95" fill="#6fc3a8" opacity="0.23"/>
<circle cx="715.3" cy="771.9" r="0.95" fill="#6fc3a8" opacity="0.23"/>
<circle cx="720.4" cy="770.4" r="0.95" fill="#6fc3a8" opacity="0.23"/>
<circle cx="725.4" cy="768.9" r="0.95" fill="#6fc3a8" opacity="0.23"/>
<circle cx="730.5" cy="767.3" r="0.95" fill="#6fc3a8" opacity="0.23"/>
<circle cx="735.5" cy="765.6" r="0.95" fill="#6fc3a8" opacity="0.23"/>
<circle cx="740.5" cy="763.9" r="0.95" fill="#6fc3a8" opacity="0.23"/>
<circle cx="745.5" cy="762.2" r="0.95" fill="#6fc3a8" opacity="0.23"/>
<circle cx="750.5" cy="760.4" r="0.95" fill="#6fc3a8" opacity="0.22"/>
<circle cx="755.5" cy="758.5" r="0.95" fill="#6fc3a8" opacity="0.22"/>
<circle cx="760.5" cy="756.6" r="0.95" fill="#6fc3a8" opacity="0.22"/>
<circle cx="765.4" cy="754.6" r="0.95" fill="#6fc3a8" opacity="0.22"/>
<circle cx="770.3" cy="752.5" r="0.95" fill="#6fc3a8" opacity="0.22"/>
<circle cx="775.2" cy="750.4" r="0.95" fill="#6fc3a8" opacity="0.22"/>
<circle cx="780.1" cy="748.2" r="0.95" fill="#6fc3a8" opacity="0.22"/>
<circle cx="784.9" cy="746.0" r="0.95" fill="#6fc3a8" opacity="0.22"/>
<circle cx="789.8" cy="743.7" r="0.95" fill="#6fc3a8" opacity="0.22"/>
<circle cx="794.6" cy="741.3" r="0.95" fill="#6fc3a8" opacity="0.22"/>
<circle cx="799.3" cy="738.9" r="0.95" fill="#6fc3a8" opacity="0.22"/>
<circle cx="804.1" cy="736.4" r="0.95" fill="#6fc3a8" opacity="0.21"/>
<circle cx="808.8" cy="733.8" r="0.95" fill="#6fc3a8" opacity="0.21"/>
<circle cx="813.4" cy="731.2" r="0.95" fill="#6fc3a8" opacity="0.21"/>
<circle cx="818.0" cy="728.5" r="0.95" fill="#6fc3a8" opacity="0.21"/>
<circle cx="822.6" cy="725.8" r="0.95" fill="#6fc3a8" opacity="0.21"/>
<circle cx="827.2" cy="723.0" r="0.95" fill="#6fc3a8" opacity="0.21"/>
<circle cx="831.7" cy="720.2" r="0.95" fill="#6fc3a8" opacity="0.21"/>
<circle cx="836.1" cy="717.3" r="0.95" fill="#6fc3a8" opacity="0.21"/>
<circle cx="840.5" cy="714.4" r="0.95" fill="#6fc3a8" opacity="0.21"/>
<circle cx="844.9" cy="711.5" r="0.95" fill="#6fc3a8" opacity="0.21"/>
<circle cx="849.3" cy="708.5" r="0.95" fill="#6fc3a8" opacity="0.21"/>
<circle cx="853.6" cy="705.5" r="0.95" fill="#6fc3a8" opacity="0.21"/>
<circle cx="857.8" cy="702.4" r="0.95" fill="#6fc3a8" opacity="0.19"/>
<circle cx="862.1" cy="699.3" r="0.95" fill="#6fc3a8" opacity="0.15"/>
<circle cx="866.3" cy="696.2" r="0.95" fill="#6fc3a8" opacity="0.12"/>
<circle cx="870.4" cy="693.0" r="0.95" fill="#6fc3a8" opacity="0.09"/>
<circle cx="874.6" cy="689.8" r="0.95" fill="#6fc3a8" opacity="0.06"/>
<circle cx="878.7" cy="686.6" r="0.95" fill="#6fc3a8" opacity="0.02"/>
<circle cx="628.6" cy="793.4" r="0.95" fill="#6fc3a8" opacity="0.03"/>
<circle cx="633.8" cy="792.7" r="0.95" fill="#6fc3a8" opacity="0.07"/>
<circle cx="639.0" cy="792.0" r="0.95" fill="#6fc3a8" opacity="0.10"/>
<circle cx="644.2" cy="791.3" r="0.95" fill="#6fc3a8" opacity="0.14"/>
<circle cx="649.4" cy="790.4" r="0.95" fill="#6fc3a8" opacity="0.17"/>
<circle cx="654.5" cy="789.6" r="0.95" fill="#6fc3a8" opacity="0.18"/>
<circle cx="659.7" cy="788.7" r="0.95" fill="#6fc3a8" opacity="0.17"/>
<circle cx="664.9" cy="787.7" r="0.95" fill="#6fc3a8" opacity="0.17"/>
<circle cx="670.1" cy="786.8" r="0.95" fill="#6fc3a8" opacity="0.17"/>
<circle cx="675.2" cy="785.7" r="0.95" fill="#6fc3a8" opacity="0.17"/>
<circle cx="680.4" cy="784.6" r="0.95" fill="#6fc3a8" opacity="0.17"/>
<circle cx="685.6" cy="783.5" r="0.95" fill="#6fc3a8" opacity="0.17"/>
<circle cx="690.7" cy="782.3" r="0.95" fill="#6fc3a8" opacity="0.17"/>
<circle cx="695.9" cy="781.1" r="0.95" fill="#6fc3a8" opacity="0.17"/>
<circle cx="701.0" cy="779.8" r="0.95" fill="#6fc3a8" opacity="0.17"/>
<circle cx="706.2" cy="778.5" r="0.95" fill="#6fc3a8" opacity="0.17"/>
<circle cx="711.3" cy="777.1" r="0.95" fill="#6fc3a8" opacity="0.17"/>
<circle cx="716.4" cy="775.7" r="0.95" fill="#6fc3a8" opacity="0.17"/>
<circle cx="721.5" cy="774.2" r="0.95" fill="#6fc3a8" opacity="0.16"/>
<circle cx="726.6" cy="772.7" r="0.95" fill="#6fc3a8" opacity="0.16"/>
<circle cx="731.7" cy="771.1" r="0.95" fill="#6fc3a8" opacity="0.16"/>
<circle cx="736.8" cy="769.4" r="0.95" fill="#6fc3a8" opacity="0.16"/>
<circle cx="741.8" cy="767.7" r="0.95" fill="#6fc3a8" opacity="0.16"/>
<circle cx="746.9" cy="766.0" r="0.95" fill="#6fc3a8" opacity="0.16"/>
<circle cx="751.9" cy="764.1" r="0.95" fill="#6fc3a8" opacity="0.16"/>
<circle cx="756.9" cy="762.2" r="0.95" fill="#6fc3a8" opacity="0.16"/>
<circle cx="761.9" cy="760.3" r="0.95" fill="#6fc3a8" opacity="0.16"/>
<circle cx="766.9" cy="758.3" r="0.95" fill="#6fc3a8" opacity="0.16"/>
<circle cx="771.9" cy="756.2" r="0.95" fill="#6fc3a8" opacity="0.16"/>
<circle cx="776.8" cy="754.1" r="0.95" fill="#6fc3a8" opacity="0.16"/>
<circle cx="781.7" cy="751.9" r="0.95" fill="#6fc3a8" opacity="0.15"/>
<circle cx="786.6" cy="749.6" r="0.95" fill="#6fc3a8" opacity="0.15"/>
<circle cx="791.5" cy="747.3" r="0.95" fill="#6fc3a8" opacity="0.15"/>
<circle cx="796.4" cy="744.9" r="0.95" fill="#6fc3a8" opacity="0.15"/>
<circle cx="801.2" cy="742.4" r="0.95" fill="#6fc3a8" opacity="0.15"/>
<circle cx="806.0" cy="739.9" r="0.95" fill="#6fc3a8" opacity="0.15"/>
<circle cx="810.7" cy="737.3" r="0.95" fill="#6fc3a8" opacity="0.15"/>
<circle cx="815.4" cy="734.7" r="0.95" fill="#6fc3a8" opacity="0.15"/>
<circle cx="820.1" cy="732.0" r="0.95" fill="#6fc3a8" opacity="0.15"/>
<circle cx="824.7" cy="729.2" r="0.95" fill="#6fc3a8" opacity="0.15"/>
<circle cx="829.3" cy="726.4" r="0.95" fill="#6fc3a8" opacity="0.15"/>
<circle cx="833.8" cy="723.6" r="0.95" fill="#6fc3a8" opacity="0.15"/>
<circle cx="838.3" cy="720.7" r="0.95" fill="#6fc3a8" opacity="0.15"/>
<circle cx="842.8" cy="717.8" r="0.95" fill="#6fc3a8" opacity="0.15"/>
<circle cx="847.2" cy="714.8" r="0.95" fill="#6fc3a8" opacity="0.14"/>
<circle cx="851.5" cy="711.8" r="0.95" fill="#6fc3a8" opacity="0.13"/>
<circle cx="855.9" cy="708.7" r="0.95" fill="#6fc3a8" opacity="0.11"/>
<circle cx="860.2" cy="705.6" r="0.95" fill="#6fc3a8" opacity="0.09"/>
<circle cx="864.4" cy="702.5" r="0.95" fill="#6fc3a8" opacity="0.06"/>
<circle cx="868.7" cy="699.4" r="0.95" fill="#6fc3a8" opacity="0.04"/>
<path d="M579.9,767.6 L583.0,767.5 L586.1,767.3 L589.2,767.2 L592.2,767.0 L595.3,766.9 L598.4,766.7 L601.5,766.5 L604.6,766.3 L607.7,766.0 L610.8,765.8 L613.9,765.5 L617.0,765.2 L620.0,764.9 L623.1,764.6 L626.2,764.2 L629.3,763.8 L632.4,763.5 L635.5,763.1 L638.5,762.7 L641.6,762.2 L644.7,761.8 L647.8,761.4 L650.8,760.9 L653.9,760.4 L657.0,759.9 L660.0,759.4 L663.1,758.9 L666.2,758.3 L669.2,757.8 L672.3,757.3 L675.4,756.7 L678.4,756.1 L681.5,755.5 L684.5,754.8 L687.5,754.2 L690.5,753.5 L693.6,752.8 L696.6,752.0 L699.6,751.3 L702.6,750.5 L705.6,749.8 L708.6,749.0 L711.6,748.1 L714.6,747.3 L717.6,746.4 L720.5,745.6 L723.5,744.6 L726.5,743.7 L729.4,742.8 L732.4,741.8 L735.3,740.8 L738.2,739.8 L741.2,738.8 L744.1,737.8 L747.0,736.7 L749.9,735.6 L752.8,734.5 L755.6,733.4 L758.5,732.2 L761.4,731.0 L764.2,729.8 L767.1,728.6 L769.9,727.3 L772.7,726.1 L775.5,724.8 L778.3,723.5 L781.1,722.1 L783.9,720.8 L786.7,719.4 L789.5,718.0 L792.2,716.5 L795.0,715.1 L797.7,713.6 L800.4,712.1 L803.1,710.6 L805.8,709.1 L808.5,707.6 L811.2,706.0 L813.9,704.4 L816.5,702.8 L819.2,701.2 L821.8,699.5 L824.4,697.8 L827.0,696.2 L829.7,694.5 L832.3,692.8 L834.9,691.1 L837.5,689.4 L840.1,687.7 L842.7,685.9 L845.2,684.1 L847.8,682.4 L850.4,680.6 L852.9,678.7 L855.4,676.9 L857.9,675.0 L860.4,673.1 L862.9,671.2 L865.4,669.3 L867.8,667.4 L870.3,665.5 L872.7,663.5 L875.2,661.6 L877.6,659.6 L880.0,657.6 L882.4,655.6 L884.8,653.6 L887.2,651.6 L889.6,649.6 L892.0,647.6 L894.3,645.5 L896.7,643.5 L899.1,641.5 L901.4,639.4 L903.7,637.3 L906.1,635.3 L908.4,633.2 L910.7,631.1 L913.0,629.0 L915.3,627.0 L917.6,624.9 L919.9,622.8 L922.1,620.7 L924.4,618.6 L926.7,616.5 L928.9,614.3 L931.2,612.2 L933.4,610.1 L935.6,608.0 L937.9,605.9 L940.1,603.8 L942.3,601.7 L944.5,599.6 L946.7,597.4 L948.9,595.3 L951.1,593.2 L953.3,591.1 L955.5,589.0 L957.6,586.9 L948.4,577.6 L946.2,579.7 L944.1,581.9 L942.0,584.0 L939.9,586.2 L937.8,588.3 L935.6,590.5 L933.5,592.7 L931.3,594.8 L929.2,597.0 L927.0,599.1 L924.8,601.3 L922.7,603.4 L920.5,605.5 L918.3,607.7 L916.1,609.8 L913.9,611.9 L911.7,614.1 L909.5,616.2 L907.2,618.3 L905.0,620.4 L902.8,622.5 L900.5,624.6 L898.3,626.7 L896.0,628.8 L893.8,630.9 L891.5,633.0 L889.2,635.1 L886.9,637.1 L884.6,639.2 L882.3,641.2 L880.0,643.3 L877.7,645.3 L875.4,647.3 L873.1,649.3 L870.7,651.3 L868.4,653.3 L866.0,655.3 L863.6,657.3 L861.3,659.2 L858.9,661.2 L856.5,663.1 L854.1,665.0 L851.7,666.9 L849.3,668.8 L846.8,670.7 L844.4,672.6 L842.0,674.4 L839.6,676.3 L837.1,678.2 L834.7,680.0 L832.2,681.8 L829.7,683.6 L827.3,685.4 L824.8,687.2 L822.3,689.0 L819.7,690.7 L817.2,692.4 L814.6,694.0 L812.1,695.7 L809.5,697.3 L806.9,698.9 L804.3,700.5 L801.7,702.1 L799.1,703.6 L796.5,705.1 L793.8,706.7 L791.2,708.1 L788.5,709.6 L785.8,711.1 L783.2,712.5 L780.5,713.9 L777.7,715.2 L775.0,716.6 L772.3,717.9 L769.5,719.2 L766.8,720.5 L764.0,721.7 L761.3,723.0 L758.5,724.2 L755.7,725.4 L752.9,726.6 L750.1,727.7 L747.2,728.9 L744.4,730.0 L741.6,731.1 L738.7,732.2 L735.9,733.3 L733.0,734.3 L730.1,735.3 L727.3,736.4 L724.4,737.3 L721.5,738.3 L718.6,739.3 L715.7,740.2 L712.7,741.1 L709.8,742.0 L706.9,742.9 L704.0,743.8 L701.0,744.6 L698.1,745.5 L695.1,746.3 L692.1,747.1 L689.2,747.9 L686.2,748.6 L683.2,749.4 L680.2,750.1 L677.2,750.9 L674.3,751.6 L671.3,752.3 L668.3,753.0 L665.3,753.7 L662.2,754.4 L659.2,755.0 L656.2,755.6 L653.2,756.2 L650.1,756.8 L647.1,757.3 L644.1,757.9 L641.0,758.4 L638.0,758.9 L634.9,759.4 L631.9,759.9 L628.8,760.4 L625.8,760.8 L622.7,761.3 L619.7,761.7 L616.6,762.1 L613.5,762.5 L610.5,762.9 L607.4,763.3 L604.4,763.7 L601.3,764.1 L598.2,764.5 L595.2,764.8 L592.1,765.2 L589.0,765.5 L586.0,765.8 L582.9,766.1 L579.8,766.4Z" fill="#c9f6e6" stroke="#c9f6e6" stroke-width="3" stroke-linejoin="round"/>
<path d="M983.9,550.5 L933.5,568.7 L947.5,577.8 L958.7,589.7 L966.4,601.6 Z" fill="#c9f6e6" stroke="#c9f6e6" stroke-width="3" stroke-linejoin="round"/>
<path d="M579.9,767.6 L583.0,767.5 L586.1,767.3 L589.2,767.2 L592.2,767.0 L595.3,766.9 L598.4,766.7 L601.5,766.5 L604.6,766.3 L607.7,766.0 L610.8,765.8 L613.9,765.5 L617.0,765.2 L620.0,764.9 L623.1,764.6 L626.2,764.2 L629.3,763.8 L632.4,763.5 L635.5,763.1 L638.5,762.7 L641.6,762.2 L644.7,761.8 L647.8,761.4 L650.8,760.9 L653.9,760.4 L657.0,759.9 L660.0,759.4 L663.1,758.9 L666.2,758.3 L669.2,757.8 L672.3,757.3 L675.4,756.7 L678.4,756.1 L681.5,755.5 L684.5,754.8 L687.5,754.2 L690.5,753.5 L693.6,752.8 L696.6,752.0 L699.6,751.3 L702.6,750.5 L705.6,749.8 L708.6,749.0 L711.6,748.1 L714.6,747.3 L717.6,746.4 L720.5,745.6 L723.5,744.6 L726.5,743.7 L729.4,742.8 L732.4,741.8 L735.3,740.8 L738.2,739.8 L741.2,738.8 L744.1,737.8 L747.0,736.7 L749.9,735.6 L752.8,734.5 L755.6,733.4 L758.5,732.2 L761.4,731.0 L764.2,729.8 L767.1,728.6 L769.9,727.3 L772.7,726.1 L775.5,724.8 L778.3,723.5 L781.1,722.1 L783.9,720.8 L786.7,719.4 L789.5,718.0 L792.2,716.5 L795.0,715.1 L797.7,713.6 L800.4,712.1 L803.1,710.6 L805.8,709.1 L808.5,707.6 L811.2,706.0 L813.9,704.4 L816.5,702.8 L819.2,701.2 L821.8,699.5 L824.4,697.8 L827.0,696.2 L829.7,694.5 L832.3,692.8 L834.9,691.1 L837.5,689.4 L840.1,687.7 L842.7,685.9 L845.2,684.1 L847.8,682.4 L850.4,680.6 L852.9,678.7 L855.4,676.9 L857.9,675.0 L860.4,673.1 L862.9,671.2 L865.4,669.3 L867.8,667.4 L870.3,665.5 L872.7,663.5 L875.2,661.6 L877.6,659.6 L880.0,657.6 L882.4,655.6 L884.8,653.6 L887.2,651.6 L889.6,649.6 L892.0,647.6 L894.3,645.5 L896.7,643.5 L899.1,641.5 L901.4,639.4 L903.7,637.3 L906.1,635.3 L908.4,633.2 L910.7,631.1 L913.0,629.0 L915.3,627.0 L917.6,624.9 L919.9,622.8 L922.1,620.7 L924.4,618.6 L926.7,616.5 L928.9,614.3 L931.2,612.2 L933.4,610.1 L935.6,608.0 L937.9,605.9 L940.1,603.8 L942.3,601.7 L944.5,599.6 L946.7,597.4 L948.9,595.3 L951.1,593.2 L953.3,591.1 L955.5,589.0 L957.6,586.9 L948.4,577.6 L946.2,579.7 L944.1,581.9 L942.0,584.0 L939.9,586.2 L937.8,588.3 L935.6,590.5 L933.5,592.7 L931.3,594.8 L929.2,597.0 L927.0,599.1 L924.8,601.3 L922.7,603.4 L920.5,605.5 L918.3,607.7 L916.1,609.8 L913.9,611.9 L911.7,614.1 L909.5,616.2 L907.2,618.3 L905.0,620.4 L902.8,622.5 L900.5,624.6 L898.3,626.7 L896.0,628.8 L893.8,630.9 L891.5,633.0 L889.2,635.1 L886.9,637.1 L884.6,639.2 L882.3,641.2 L880.0,643.3 L877.7,645.3 L875.4,647.3 L873.1,649.3 L870.7,651.3 L868.4,653.3 L866.0,655.3 L863.6,657.3 L861.3,659.2 L858.9,661.2 L856.5,663.1 L854.1,665.0 L851.7,666.9 L849.3,668.8 L846.8,670.7 L844.4,672.6 L842.0,674.4 L839.6,676.3 L837.1,678.2 L834.7,680.0 L832.2,681.8 L829.7,683.6 L827.3,685.4 L824.8,687.2 L822.3,689.0 L819.7,690.7 L817.2,692.4 L814.6,694.0 L812.1,695.7 L809.5,697.3 L806.9,698.9 L804.3,700.5 L801.7,702.1 L799.1,703.6 L796.5,705.1 L793.8,706.7 L791.2,708.1 L788.5,709.6 L785.8,711.1 L783.2,712.5 L780.5,713.9 L777.7,715.2 L775.0,716.6 L772.3,717.9 L769.5,719.2 L766.8,720.5 L764.0,721.7 L761.3,723.0 L758.5,724.2 L755.7,725.4 L752.9,726.6 L750.1,727.7 L747.2,728.9 L744.4,730.0 L741.6,731.1 L738.7,732.2 L735.9,733.3 L733.0,734.3 L730.1,735.3 L727.3,736.4 L724.4,737.3 L721.5,738.3 L718.6,739.3 L715.7,740.2 L712.7,741.1 L709.8,742.0 L706.9,742.9 L704.0,743.8 L701.0,744.6 L698.1,745.5 L695.1,746.3 L692.1,747.1 L689.2,747.9 L686.2,748.6 L683.2,749.4 L680.2,750.1 L677.2,750.9 L674.3,751.6 L671.3,752.3 L668.3,753.0 L665.3,753.7 L662.2,754.4 L659.2,755.0 L656.2,755.6 L653.2,756.2 L650.1,756.8 L647.1,757.3 L644.1,757.9 L641.0,758.4 L638.0,758.9 L634.9,759.4 L631.9,759.9 L628.8,760.4 L625.8,760.8 L622.7,761.3 L619.7,761.7 L616.6,762.1 L613.5,762.5 L610.5,762.9 L607.4,763.3 L604.4,763.7 L601.3,764.1 L598.2,764.5 L595.2,764.8 L592.1,765.2 L589.0,765.5 L586.0,765.8 L582.9,766.1 L579.8,766.4Z" fill="url(#gArr)"/>
<path d="M983.9,550.5 L933.5,568.7 L947.5,577.8 L958.7,589.7 L966.4,601.6 Z" fill="#18b56f"/>
<!-- cylinders -->
<g>
 <path d="M159.5,593.5 V655 A96.25,12.5 0 0 0 352,655 V593.5 Z" fill="url(#cylL)" filter="url(#sh)"/>
 <ellipse cx="255.75" cy="593.5" rx="96.25" ry="12.5" fill="url(#cylLt)"/>
 <path d="M159.5,593.5 A96.25,12.5 0 0 0 352,593.5" fill="none" stroke="#b4d6f6" stroke-width="2"/>
</g>
<g>
 <path d="M1091.8,646.5 V705.2 A151.05,12 0 0 0 1393.9,705.2 V646.5 Z" fill="url(#cylR)" filter="url(#sh)"/>
 <ellipse cx="1242.85" cy="646.5" rx="151.05" ry="12" fill="url(#cylRt)"/>
 <path d="M1091.8,646.5 A151.05,12 0 0 0 1393.9,646.5" fill="none" stroke="#a9d2f8" stroke-width="2"/>
</g>
</svg>

<!-- left panel boxes -->
<div class="a" style="left:129.5px;top:211.5px;width:249px;height:50.5px;border-radius:14px;background:linear-gradient(90deg,#e9574a,#ee6a5a 60%,#ec6252);box-shadow:0 4px 10px rgba(230,90,80,.18)"></div>
<div class="box" style="left:150px;top:290px;width:213px;height:57px"></div>
<div class="box" style="left:150px;top:388px;width:213px;height:57px"></div>
<div class="box" style="left:150px;top:486px;width:213px;height:55px"></div>
<div class="box" style="left:96px;top:714px;width:328px;height:72px;border-radius:9px"></div>
<div class="a" style="left:84.5px;top:829px;width:366px;height:52.5px;border-radius:11px;background:linear-gradient(180deg,#fde6e6,#fbe2e2);box-shadow:0 2px 6px rgba(230,120,120,.08)"></div>
<!-- middle cards -->
<div class="card" style="left:483.5px;top:289px;width:259.5px;height:69px"></div>
<div class="card" style="left:483.5px;top:383px;width:259.5px;height:69px"></div>
<div class="card" style="left:483.5px;top:475.5px;width:260px;height:70.5px"></div>
<div class="gp" style="left:781.5px;top:298.7px;width:181px;height:48.5px"></div>
<div class="gp" style="left:781.5px;top:394.2px;width:181px;height:48.2px"></div>
<div class="gp" style="left:778.2px;top:484px;width:190px;height:48.8px"></div>
<!-- right panel -->
<div class="a" style="left:1099px;top:211.5px;width:268px;height:50.5px;border-radius:14px;background:linear-gradient(180deg,#15a286,#27bb8e);box-shadow:0 4px 10px rgba(30,160,120,.18)"></div>
<div class="box" style="left:1125px;top:289px;width:222px;height:58px;border-radius:8px"></div>
<div class="box" style="left:1106px;top:374px;width:264.5px;height:60px;border-radius:8px"></div>
<div class="box" style="left:1106px;top:461px;width:264.5px;height:59px;border-radius:8px"></div>
<div class="box" style="left:1122.5px;top:546.7px;width:225px;height:66.3px;border-radius:8px"></div>
<div class="a" style="left:1179.7px;top:588.4px;width:133.3px;height:31.8px;border-radius:7px;background:#c9f0e1"></div>
<div class="box" style="left:1056.6px;top:736.6px;width:360.4px;height:61.6px;border-radius:8px"></div>
<div class="box" style="left:1042.6px;top:824px;width:396.8px;height:64.7px;border-radius:9px;border-color:#8fd6bf"></div>
<div class="a" style="left:1042.6px;top:900.4px;width:394.8px;height:50.4px;border-radius:12px;background:linear-gradient(180deg,#dcf4ea,#d3f0e4);box-shadow:0 3px 8px rgba(30,140,100,.08)"></div>

<svg width="1500" height="1000" viewBox="0 0 1500 1000" style="z-index:4">
<defs>
<linearGradient id="icB" x1="0" y1="0" x2="0" y2="1"><stop offset="0" stop-color="#1a5db0"/><stop offset="1" stop-color="#2179d8"/></linearGradient>
<linearGradient id="icB2" x1="0" y1="0" x2="0" y2="1"><stop offset="0" stop-color="#1b5fbd"/><stop offset="1" stop-color="#237bdc"/></linearGradient>
</defs>
<g fill="none" stroke-linecap="round" stroke-linejoin="round">
<path d="M167.7,300.6 H187.1 L195.4,308.6 V334.9 Q195.4,336.9 193.4,336.9 H167.7 Q165.7,336.9 165.7,334.9 V302.6 Q165.7,300.6 167.7,300.6 Z" fill="#e5ecf6" stroke="#6d7b90" stroke-width="1.5"/>
<path d="M187.1,300.6 L187.7,308.2 L195.4,308.6" fill="#f4f7fb" stroke="#6d7b90" stroke-width="1.3"/>
<line x1="170.3" y1="308.9" x2="183.7" y2="308.9" stroke="#4d5a70" stroke-width="1.5"/>
<line x1="170.3" y1="313.8" x2="186.4" y2="313.8" stroke="#4d5a70" stroke-width="1.5"/>
<line x1="170.3" y1="319.0" x2="190.6" y2="319.0" stroke="#4d5a70" stroke-width="1.5"/>
<line x1="170.3" y1="324.5" x2="190.6" y2="324.5" stroke="#4d5a70" stroke-width="1.5"/>
<line x1="180.2" y1="329.9" x2="185.3" y2="329.9" stroke="#3d4a60" stroke-width="1.8"/>
</g>
<rect x="167.3" y="400.0" width="31.9" height="10.3" rx="3.2" fill="#eaf3fc" stroke="#5d7390" stroke-width="1.4"/>
<rect x="167.3" y="413.4" width="31.9" height="9.2" rx="3.2" fill="#eaf3fc" stroke="#5d7390" stroke-width="1.4"/>
<rect x="167.3" y="426.6" width="31.9" height="9.9" rx="3.2" fill="#eaf3fc" stroke="#5d7390" stroke-width="1.4"/>
<line x1="182.4" y1="405.3" x2="188.2" y2="405.3" stroke="#34455e" stroke-width="1.8" stroke-linecap="round"/>
<line x1="170.2" y1="418.3" x2="177.6" y2="418.3" stroke="#3a6ab0" stroke-width="1.6" stroke-linecap="round"/>
<circle cx="186.7" cy="418.3" r="0.9" fill="#9aa8b8"/>
<line x1="181.4" y1="513.8" x2="175.8" y2="499.4" stroke="#7e8ea4" stroke-width="1.3"/>
<line x1="181.4" y1="513.8" x2="190.0" y2="500.2" stroke="#7e8ea4" stroke-width="1.3"/>
<line x1="181.4" y1="513.8" x2="167.8" y2="509.6" stroke="#7e8ea4" stroke-width="1.3"/>
<line x1="181.4" y1="513.8" x2="195.9" y2="513.2" stroke="#7e8ea4" stroke-width="1.3"/>
<line x1="181.4" y1="513.8" x2="172.0" y2="523.9" stroke="#7e8ea4" stroke-width="1.3"/>
<line x1="181.4" y1="513.8" x2="189.0" y2="525.2" stroke="#7e8ea4" stroke-width="1.3"/>
<line x1="175.8" y1="499.4" x2="167.8" y2="509.6" stroke="#7e8ea4" stroke-width="1.3"/>
<line x1="167.8" y1="509.6" x2="172.0" y2="523.9" stroke="#7e8ea4" stroke-width="1.3"/>
<line x1="172.0" y1="523.9" x2="189.0" y2="525.2" stroke="#7e8ea4" stroke-width="1.3"/>
<circle cx="175.8" cy="499.4" r="3.0" fill="#2878d2"/>
<circle cx="190.0" cy="500.2" r="3.0" fill="#2878d2"/>
<circle cx="167.8" cy="509.6" r="3.3" fill="#2878d2"/>
<circle cx="195.9" cy="513.2" r="3.0" fill="#2878d2"/>
<circle cx="172.0" cy="523.9" r="3.3" fill="#2878d2"/>
<circle cx="189.0" cy="525.2" r="3.0" fill="#2878d2"/>
<circle cx="181.4" cy="513.8" r="2.0" fill="#2878d2"/>
<path d="M142.1,736.6 L144.3,736.1 L144.8,731.7 L151.0,731.9 L151.2,736.3 L156.5,738.6 L159.9,735.9 L164.1,740.3 L161.3,743.6 L163.4,748.9 L167.8,749.3 L167.8,755.5 L163.4,755.9 L161.3,761.2 L164.1,764.5 L159.9,768.9 L156.5,766.2 L151.2,768.5 L151.0,772.9 L144.8,773.1 L144.3,768.7 L142.1,768.2 C138,771 131,773 128,769 C122,770 118,765 120,759 C115,755 116,748 121,745 C120,739 125,734 131,735 C134,731 139,731 142.1,736.6" fill="#f4f9fe" stroke="#2b70c2" stroke-width="1.8" stroke-linejoin="round"/>
<path d="M134,736 C130,742 134,746 129,750 M121,751 C125,749 128,752 131,750 M124,762 C127,758 131,759 133,762 M136,740 C131,752 137,760 131,768" fill="none" stroke="#2b70c2" stroke-width="1.5" stroke-linecap="round"/>
<text x="134.9" y="759" font-family="Liberation Sans" font-weight="bold" font-size="19.5" fill="#2a6ec2" textLength="17.7" lengthAdjust="spacingAndGlyphs">AI</text>
<path d="M503.5,317.0 L503.5,312.5 L507.0,311.0 L507.5,307.8 L516.0,307.8 L517.0,313.0" fill="none" stroke="#8d9bb0" stroke-width="1.2" stroke-linejoin="round"/><line x1="510.5" y1="322.2" x2="525.4" y2="311.9" stroke="#5f7190" stroke-width="1.3"/><line x1="510.5" y1="322.2" x2="524.6" y2="332.3" stroke="#5f7190" stroke-width="1.3"/><line x1="510.5" y1="322.2" x2="510.9" y2="337.8" stroke="#5f7190" stroke-width="1.3"/><line x1="501.5" y1="332.8" x2="510.9" y2="337.8" stroke="#5f7190" stroke-width="1.3"/><line x1="503.0" y1="325.5" x2="501.5" y2="332.8" stroke="#5f7190" stroke-width="1.3"/><line x1="510.5" y1="322.2" x2="503.5" y2="317.0" stroke="#5f7190" stroke-width="1.3"/><path d="M504.0,319.5 A3.4,3.4 0 1 0 504.3,325.7" fill="none" stroke="#2272cc" stroke-width="2.6"/><rect x="520.8" y="307.3" width="9.2" height="9.2" rx="2.4" fill="#2580da"/><circle cx="525.4" cy="311.9" r="1.1" fill="#8fd0ff"/><rect x="519.9" y="327.6" width="9.4" height="9.4" rx="2.4" fill="#2580da"/><circle cx="524.6" cy="332.3" r="1.1" fill="#8fd0ff"/><rect x="507.0" y="333.9" width="7.8" height="7.8" rx="2.4" fill="#2580da"/><circle cx="510.9" cy="337.8" r="1.1" fill="#8fd0ff"/><circle cx="510.5" cy="322.2" r="3.2" fill="#1e62b4"/><circle cx="501.5" cy="332.8" r="3.6" fill="#2272cc"/>

<path d="M1127.1,397.3 L1127.1,392.3 L1131.1,390.6 L1131.6,387.0 L1141.1,387.0 L1142.3,392.8" fill="none" stroke="#8d9bb0" stroke-width="1.3" stroke-linejoin="round"/><line x1="1135.0" y1="403.1" x2="1151.7" y2="391.6" stroke="#5f7190" stroke-width="1.5"/><line x1="1135.0" y1="403.1" x2="1150.8" y2="414.4" stroke="#5f7190" stroke-width="1.5"/><line x1="1135.0" y1="403.1" x2="1135.4" y2="420.6" stroke="#5f7190" stroke-width="1.5"/><line x1="1124.9" y1="415.0" x2="1135.4" y2="420.6" stroke="#5f7190" stroke-width="1.5"/><line x1="1126.6" y1="406.8" x2="1124.9" y2="415.0" stroke="#5f7190" stroke-width="1.5"/><line x1="1135.0" y1="403.1" x2="1127.1" y2="397.3" stroke="#5f7190" stroke-width="1.5"/><path d="M1127.7,400.1 A3.8,3.8 0 1 0 1128.0,407.0" fill="none" stroke="#2272cc" stroke-width="2.9"/><rect x="1146.5" y="386.4" width="10.3" height="10.3" rx="2.7" fill="#2580da"/><circle cx="1151.7" cy="391.6" r="1.2" fill="#8fd0ff"/><rect x="1145.5" y="409.2" width="10.5" height="10.5" rx="2.7" fill="#2580da"/><circle cx="1150.8" cy="414.4" r="1.2" fill="#8fd0ff"/><rect x="1131.1" y="416.2" width="8.7" height="8.7" rx="2.7" fill="#2580da"/><circle cx="1135.4" cy="420.6" r="1.2" fill="#8fd0ff"/><circle cx="1135.0" cy="403.1" r="3.6" fill="#1e62b4"/><circle cx="1124.9" cy="415.0" r="4.0" fill="#2272cc"/>
<path d="M501.1,401.3 H527.3 Q530.3,401.3 530.3,404.3 V430.0 Q530.3,433.0 527.3,433.0 H524.0 L523.1,437.2 L519.2,433.0 H501.1 Q498.1,433.0 498.1,430.0 V404.3 Q498.1,401.3 501.1,401.3 Z" fill="#eef6fd" stroke="#5a7aa0" stroke-width="1.4" stroke-linejoin="round"/><line x1="503.2" y1="409.1" x2="525.1" y2="409.1" stroke="#3a68a8" stroke-width="1.6"/><line x1="503.2" y1="414.9" x2="525.1" y2="414.9" stroke="#3a68a8" stroke-width="1.6"/><line x1="503.2" y1="420.1" x2="524.2" y2="420.1" stroke="#3a68a8" stroke-width="1.6"/><line x1="503.2" y1="425.0" x2="516.5" y2="425.0" stroke="#3a68a8" stroke-width="1.6"/>
<path d="M1124.6,475.6 H1150.6 Q1153.6,475.6 1153.6,478.6 V504.6 Q1153.6,507.6 1150.6,507.6 H1147.4 L1146.5,511.8 L1142.6,507.6 H1124.6 Q1121.6,507.6 1121.6,504.6 V478.6 Q1121.6,475.6 1124.6,475.6 Z" fill="#f0f7fe" stroke="#4a72b0" stroke-width="1.4" stroke-linejoin="round"/><line x1="1126.6" y1="483.5" x2="1148.6" y2="483.5" stroke="#3566ad" stroke-width="1.6"/><line x1="1126.6" y1="489.0" x2="1148.6" y2="489.0" stroke="#3566ad" stroke-width="1.6"/><line x1="1126.6" y1="494.5" x2="1147.6" y2="494.5" stroke="#3566ad" stroke-width="1.6"/><line x1="1126.6" y1="499.8" x2="1139.8" y2="499.8" stroke="#3566ad" stroke-width="1.6"/>
<rect x="499.3" y="490.3" width="31.4" height="40.1" rx="4" fill="url(#icB)"/>
<path d="M511.3,497.7 L512.9,502.0 L517.6,502.3 L514.0,505.2 L515.2,509.6 L511.3,507.1 L507.4,509.6 L508.6,505.2 L505.0,502.3 L509.7,502.0Z" fill="#f4f9ff"/>
<line x1="516.8" y1="502.1" x2="524.7" y2="502.1" stroke="#eaf5ff" stroke-width="2.4" stroke-linecap="round"/>
<line x1="516.8" y1="510.2" x2="524.7" y2="510.2" stroke="#eaf5ff" stroke-width="2.4" stroke-linecap="round"/>
<circle cx="507" cy="519.1" r="2.1" fill="#d8efff"/>
<line x1="513.9" y1="519.1" x2="526.2" y2="519.1" stroke="#eaf5ff" stroke-width="2.4" stroke-linecap="round"/>
<path d="M1143.8,299.5 H1164.6 L1173,307.4 V334 Q1173,336 1171,336 H1143.8 Q1141.8,336 1141.8,334 V301.5 Q1141.8,299.5 1143.8,299.5 Z" fill="#f0f7fe" stroke="#5878a8" stroke-width="1.5" stroke-linejoin="round"/>
<path d="M1164.6,299.5 L1164.8,307.7 L1173,307.4" fill="#e4eefa" stroke="#5878a8" stroke-width="1.3" stroke-linejoin="round"/>
<line x1="1146.8" y1="307.9" x2="1159.9" y2="307.9" stroke="#456aa0" stroke-width="1.6" stroke-linecap="round"/>
<line x1="1146.8" y1="313.0" x2="1162.4" y2="313.0" stroke="#456aa0" stroke-width="1.6" stroke-linecap="round"/>
<line x1="1146.8" y1="318.2" x2="1167.4" y2="318.2" stroke="#456aa0" stroke-width="1.6" stroke-linecap="round"/>
<line x1="1146.8" y1="323.5" x2="1167.4" y2="323.5" stroke="#456aa0" stroke-width="1.6" stroke-linecap="round"/>
<line x1="1146.8" y1="328.5" x2="1159.9" y2="328.5" stroke="#456aa0" stroke-width="1.6" stroke-linecap="round"/>
<line x1="1147.2" y1="565.5" x2="1137.5" y2="578.8" stroke="#8c9bb0" stroke-width="1.4"/>
<line x1="1147.2" y1="565.5" x2="1154.2" y2="578.8" stroke="#8c9bb0" stroke-width="1.4"/>
<line x1="1163.3" y1="560.8" x2="1154.2" y2="578.8" stroke="#8c9bb0" stroke-width="1.4"/>
<line x1="1154.2" y1="578.8" x2="1171.6" y2="579.0" stroke="#8c9bb0" stroke-width="1.4"/>
<line x1="1137.5" y1="578.8" x2="1147.4" y2="595.9" stroke="#8c9bb0" stroke-width="1.4"/>
<line x1="1154.2" y1="578.8" x2="1147.4" y2="595.9" stroke="#8c9bb0" stroke-width="1.4"/>
<line x1="1154.2" y1="578.8" x2="1164.3" y2="596.7" stroke="#8c9bb0" stroke-width="1.4"/>
<line x1="1171.6" y1="579.0" x2="1164.3" y2="596.7" stroke="#8c9bb0" stroke-width="1.4"/>
<line x1="1147.4" y1="595.9" x2="1164.3" y2="596.7" stroke="#8c9bb0" stroke-width="1.4"/>
<circle cx="1147.2" cy="565.5" r="3.3" fill="#1f60b0"/>
<circle cx="1163.3" cy="560.8" r="3.3" fill="#1f60b0"/>
<circle cx="1137.5" cy="578.8" r="3.3" fill="#1f60b0"/>
<circle cx="1154.2" cy="578.8" r="3.3" fill="#1f60b0"/>
<circle cx="1171.6" cy="579.0" r="3.3" fill="#1f60b0"/>
<circle cx="1147.4" cy="595.9" r="3.3" fill="#1f60b0"/>
<circle cx="1164.3" cy="596.7" r="3.3" fill="#1f60b0"/>
<rect x="1088.1" y="749.6" width="36" height="39.1" rx="4.5" fill="url(#icB2)"/>
<ellipse cx="1097.9" cy="764.7" rx="3.8" ry="6" transform="rotate(20 1097.9 764.7)" fill="none" stroke="#e4f4ff" stroke-width="1.9"/>
<line x1="1094.6" y1="765.6" x2="1100.8" y2="764" stroke="#e4f4ff" stroke-width="1.5"/>
<line x1="1104.6" y1="761.6" x2="1119" y2="761.6" stroke="#e4f4ff" stroke-width="2.3" stroke-linecap="round"/>
<line x1="1104.2" y1="769.2" x2="1119" y2="769.2" stroke="#e4f4ff" stroke-width="2.3" stroke-linecap="round"/>
<line x1="1103.2" y1="777.6" x2="1119" y2="777.6" stroke="#e4f4ff" stroke-width="2.3" stroke-linecap="round"/>
<circle cx="1096.7" cy="777.6" r="2.1" fill="#e4f4ff"/>
<path d="M1115.0,858.4 L1114.6,860.7 L1118.0,862.1 L1115.5,867.4 L1111.9,866.4 L1110.4,868.3 L1108.7,870.0 L1110.6,872.8 L1105.4,876.1 L1103.0,873.5 L1100.5,874.4 L1098.0,875.0 L1097.9,878.4 L1091.4,878.6 L1091.0,875.3 L1088.4,874.9 L1085.9,874.2 L1083.8,876.9 L1078.2,874.1 L1079.9,871.1 L1078.0,869.5 L1076.3,867.7 L1072.8,869.0 L1069.9,864.0 L1073.1,862.2 L1072.5,860.0 L1072.1,857.7 L1068.4,857.1 L1069.1,851.5 L1072.8,851.6 L1073.7,849.4 L1074.8,847.3 L1072.0,845.0 L1076.0,840.6 L1079.2,842.5 L1081.2,841.0 L1083.5,839.8 L1082.5,836.6 L1088.6,834.8 L1090.1,837.8 L1092.7,837.6 L1095.3,837.6 L1096.5,834.5 L1102.7,835.8 L1102.1,839.1 L1104.4,840.2 L1106.6,841.5 L1109.6,839.3 L1114.0,843.5 L1111.4,845.9 L1112.8,847.9 L1113.8,850.0 L1117.6,849.6 L1118.8,855.2 L1115.1,856.1Z" fill="#1cb585" stroke="#1cb585" stroke-width="2.5" stroke-linejoin="round"/>
<ellipse cx="1073.9" cy="852.0" rx="1.8" ry="1.5" transform="rotate(0 1073.9 852.0)" fill="#cffff0"/>
<ellipse cx="1081.0" cy="841.0" rx="1.2" ry="2.4" transform="rotate(20 1081.0 841.0)" fill="#cffff0"/>
<ellipse cx="1099.5" cy="839.2" rx="1.1" ry="2.3" transform="rotate(15 1099.5 839.2)" fill="#cffff0"/>
<ellipse cx="1110.0" cy="845.8" rx="1.7" ry="1.4" transform="rotate(0 1110.0 845.8)" fill="#cffff0"/>
<ellipse cx="1114.5" cy="859.0" rx="2.1" ry="1.1" transform="rotate(0 1114.5 859.0)" fill="#cffff0"/>
<ellipse cx="1076.0" cy="865.0" rx="2.2" ry="1.2" transform="rotate(-20 1076.0 865.0)" fill="#cffff0"/>
<ellipse cx="1085.0" cy="871.5" rx="1.0" ry="2.2" transform="rotate(20 1085.0 871.5)" fill="#cffff0"/>
<ellipse cx="1100.0" cy="872.0" rx="1.5" ry="2.0" transform="rotate(0 1100.0 872.0)" fill="#cffff0"/>
<text x="1081.8" y="863.5" font-family="Liberation Sans" font-weight="bold" font-size="24" fill="#f2fffa" textLength="24.5" lengthAdjust="spacingAndGlyphs">Ai</text>
<path d="M1062,925.4 L1067.2,931.2 L1079,918.4" fill="none" stroke="#17906a" stroke-width="3.2" stroke-linecap="round" stroke-linejoin="round"/>
</svg>
<div class="t" style="left:351.06px;top:46.70px;font-size:52.33px;color:#1e3858;font-weight:bold;font-style:normal;transform:scaleX(0.9111)">RAG Accuracy</div>
<div class="t" style="left:696.08px;top:46.70px;font-size:52.33px;color:#2386e0;font-weight:bold;font-style:normal;transform:scaleX(0.9799)">Improvement</div>
<div class="t" style="left:1033.92px;top:46.70px;font-size:52.33px;color:#1e3858;font-weight:bold;font-style:normal;transform:scaleX(0.9461)">Flow</div>
<div class="t" style="left:170.78px;top:163.70px;font-size:34.88px;color:#2b333d;font-weight:bold;font-style:normal;transform:scaleX(0.9622)">Naive</div>
<div class="t" style="left:271.49px;top:163.70px;font-size:34.88px;color:#2b333d;font-weight:bold;font-style:normal;transform:scaleX(0.9041)">RAG</div>
<div class="t" style="left:152.68px;top:219.50px;font-size:32.77px;color:#fff8f4;font-weight:normal;letter-spacing:1.15px;-webkit-text-stroke:1.31px #fff8f4;font-style:normal;transform:scaleX(1.0152)">60%</div>
<div class="t" style="left:231.00px;top:219.40px;font-size:31.10px;color:#fff8f4;font-weight:normal;letter-spacing:1.09px;-webkit-text-stroke:1.24px #fff8f4;font-style:normal;transform:scaleX(0.9066)">Accuracy</div>
<div class="t" style="left:210.06px;top:305.00px;font-size:23.55px;color:#1f3450;font-weight:normal;letter-spacing:0.82px;-webkit-text-stroke:0.94px #1f3450;font-style:normal;transform:scaleX(0.9435)">Documents</div>
<div class="t" style="left:217.79px;top:403.00px;font-size:23.40px;color:#1f3450;font-weight:normal;letter-spacing:0.82px;-webkit-text-stroke:0.94px #1f3450;font-style:normal;transform:scaleX(0.9136)">Chunking</div>
<div class="t" style="left:210.64px;top:500.40px;font-size:21.80px;color:#1f3450;font-weight:normal;letter-spacing:0.76px;-webkit-text-stroke:0.87px #1f3450;font-style:normal;transform:scaleX(0.9559)">Embeddings</div>
<div class="t" style="left:202.40px;top:621.20px;font-size:23.26px;color:#f4f8fd;font-weight:normal;letter-spacing:0.81px;-webkit-text-stroke:0.93px #f4f8fd;font-style:normal;transform:scaleX(0.9829)">Vector DB</div>
<div class="t" style="left:177.67px;top:735.50px;font-size:28.63px;color:#1f3450;font-weight:normal;letter-spacing:1.00px;-webkit-text-stroke:1.15px #1f3450;font-style:normal;transform:scaleX(0.9648)">LLM</div>
<div class="t" style="left:280.40px;top:735.50px;font-size:28.63px;color:#1f3450;font-weight:normal;letter-spacing:1.00px;-webkit-text-stroke:1.15px #1f3450;font-style:normal;transform:scaleX(0.9198)">Answer</div>
<div class="t" style="left:107.75px;top:843.30px;font-size:19.48px;color:#c7383c;font-weight:normal;letter-spacing:0.68px;-webkit-text-stroke:0.78px #c7383c;font-style:normal;transform:scaleX(1.0535)">Limited Context</div>
<div class="t" style="left:290.19px;top:843.30px;font-size:19.48px;color:#c7383c;font-weight:normal;letter-spacing:0.68px;-webkit-text-stroke:0.78px #c7383c;font-style:normal;transform:scaleX(1.0100)">Basic Search</div>
<div class="t" style="left:637.01px;top:208.80px;font-size:27.33px;color:#1ea878;font-weight:normal;letter-spacing:0.96px;-webkit-text-stroke:1.09px #1ea878;font-style:normal;transform:scaleX(0.9972)">Improvements</div>
<div class="t" style="left:543.76px;top:310.40px;font-size:22.38px;color:#1d5fae;font-weight:normal;letter-spacing:0.78px;-webkit-text-stroke:0.90px #1d5fae;font-style:normal;transform:scaleX(0.9385)">Smart Chunking</div>
<div class="t" style="left:543.16px;top:404.20px;font-size:21.80px;color:#1d5fae;font-weight:normal;letter-spacing:0.76px;-webkit-text-stroke:0.87px #1d5fae;font-style:normal;transform:scaleX(0.9381)">Query Expansion</div>
<div class="t" style="left:544.83px;top:498.70px;font-size:21.37px;color:#1d5fae;font-weight:normal;letter-spacing:0.75px;-webkit-text-stroke:0.85px #1d5fae;font-style:normal;transform:scaleX(0.9706)">Reranking</div>
<div class="t" style="left:803.00px;top:312.50px;font-size:19.91px;color:#157f5d;font-weight:normal;letter-spacing:0.70px;-webkit-text-stroke:0.80px #157f5d;font-style:normal;transform:scaleX(1.0000)">Better Context</div>
<div class="t" style="left:800.24px;top:405.70px;font-size:20.35px;color:#157f5d;font-weight:normal;letter-spacing:0.71px;-webkit-text-stroke:0.81px #157f5d;font-style:normal;transform:scaleX(0.9565)">More Coverage</div>
<div class="t" style="left:790.60px;top:496.60px;font-size:21.22px;color:#157f5d;font-weight:normal;letter-spacing:0.74px;-webkit-text-stroke:0.85px #157f5d;font-style:normal;transform:scaleX(0.9017)">Higher Relevance</div>
<div class="t" style="left:610.00px;top:604.30px;font-size:63.98px;color:#1f7ad6;font-weight:bold;font-style:italic;transform:scaleX(0.9250)">+34%</div>
<div class="t" style="left:578.40px;top:669.50px;font-size:28.92px;color:#1e3555;font-weight:bold;font-style:italic;transform:scaleX(0.9403)">Accuracy Boost</div>
<div class="t" style="left:1096.08px;top:163.60px;font-size:40.12px;color:#1f7fd6;font-weight:bold;font-style:normal;transform:scaleX(0.9202)">Advanced</div>
<div class="t" style="left:1285.11px;top:163.60px;font-size:40.12px;color:#1b3d5e;font-weight:bold;font-style:normal;transform:scaleX(0.9643)">RAG</div>
<div class="t" style="left:1129.08px;top:219.20px;font-size:33.05px;color:#f4fffb;font-weight:normal;letter-spacing:1.16px;-webkit-text-stroke:1.32px #f4fffb;font-style:normal;transform:scaleX(1.0179)">94%</div>
<div class="t" style="left:1209.80px;top:220.80px;font-size:30.23px;color:#f4fffb;font-weight:normal;letter-spacing:1.06px;-webkit-text-stroke:1.21px #f4fffb;font-style:normal;transform:scaleX(0.9356)">Accuracy</div>
<div class="t" style="left:1189.99px;top:306.60px;font-size:22.09px;color:#1e62b0;font-weight:normal;letter-spacing:0.77px;-webkit-text-stroke:0.88px #1e62b0;font-style:normal;transform:scaleX(1.0085)">Documents</div>
<div class="t" style="left:1175.00px;top:391.00px;font-size:21.80px;color:#2a7fd4;font-weight:normal;letter-spacing:0.76px;-webkit-text-stroke:0.87px #2a7fd4;font-style:normal;transform:scaleX(1.0000)">Smart Chunking</div>
<div class="t" style="left:1168.99px;top:478.00px;font-size:21.22px;color:#2a7fd4;font-weight:normal;letter-spacing:0.74px;-webkit-text-stroke:0.85px #2a7fd4;font-style:normal;transform:scaleX(1.0117)">Query Expansion</div>
<div class="t" style="left:1186.76px;top:560.40px;font-size:22.09px;color:#263548;font-weight:normal;letter-spacing:0.77px;-webkit-text-stroke:0.88px #263548;font-style:normal;transform:scaleX(0.9434)">Embeddings</div>
<div class="t" style="left:1195.73px;top:593.70px;font-size:19.19px;color:#1f9f70;font-weight:normal;letter-spacing:0.67px;-webkit-text-stroke:0.77px #1f9f70;font-style:normal;transform:scaleX(0.9667)">Fine-Tuned</div>
<div class="t" style="left:1144.00px;top:671.10px;font-size:22.97px;color:#f4f8fd;font-weight:normal;letter-spacing:0.80px;-webkit-text-stroke:0.92px #f4f8fd;font-style:normal;transform:scaleX(1.0238)">Vector Database</div>
<div class="t" style="left:1135.42px;top:755.30px;font-size:22.09px;color:#2a7fd4;font-weight:normal;letter-spacing:0.77px;-webkit-text-stroke:0.88px #2a7fd4;font-style:normal;transform:scaleX(0.9762)">Reranking</div>
<div class="t" style="left:1245.57px;top:755.30px;font-size:22.09px;color:#24354d;font-weight:normal;letter-spacing:0.77px;-webkit-text-stroke:0.88px #24354d;font-style:normal;transform:scaleX(1.2273)">+</div>
<div class="t" style="left:1267.81px;top:754.30px;font-size:22.82px;color:#24354d;font-weight:normal;letter-spacing:0.80px;-webkit-text-stroke:0.91px #24354d;font-style:normal;transform:scaleX(0.9930)">Filtering</div>
<div class="t" style="left:1133.81px;top:841.00px;font-size:26.45px;color:#17875f;font-weight:normal;letter-spacing:0.93px;-webkit-text-stroke:1.06px #17875f;font-style:normal;transform:scaleX(1.0460)">LLM</div>
<div class="t" style="left:1230.23px;top:841.00px;font-size:26.45px;color:#17875f;font-weight:normal;letter-spacing:0.93px;-webkit-text-stroke:1.06px #17875f;font-style:normal;transform:scaleX(0.9850)">Final Answer</div>
<div class="t" style="left:1089.22px;top:912.20px;font-size:21.08px;color:#1b946b;font-weight:normal;letter-spacing:0.74px;-webkit-text-stroke:0.84px #1b946b;font-style:normal;transform:scaleX(0.9829)">High Context</div>
<div class="t" style="left:1246.20px;top:912.20px;font-size:21.08px;color:#1b946b;font-weight:normal;letter-spacing:0.74px;-webkit-text-stroke:0.84px #1b946b;font-style:normal;transform:scaleX(0.9435)">Accurate Results</div>
<svg width="1500" height="1000" viewBox="0 0 1500 1000" style="z-index:5">
<line x1="256.6" y1="351.0" x2="256.6" y2="373.8" stroke="#1d3a5e" stroke-width="2.2"/><path d="M248.6,372.8 L264.6,372.8 L256.6,385.3 Z" fill="#1d3a5e"/>
<line x1="256.6" y1="450.0" x2="256.6" y2="471.7" stroke="#1d3a5e" stroke-width="2.2"/><path d="M248.6,470.7 L264.6,470.7 L256.6,483.2 Z" fill="#1d3a5e"/>
<line x1="256.6" y1="546.0" x2="256.6" y2="566.2" stroke="#1d3a5e" stroke-width="2.2"/><path d="M248.6,565.2 L264.6,565.2 L256.6,577.7 Z" fill="#1d3a5e"/>
<line x1="256.6" y1="674.0" x2="256.6" y2="699.3" stroke="#1d3a5e" stroke-width="2.2"/><path d="M248.6,698.3 L264.6,698.3 L256.6,710.8 Z" fill="#1d3a5e"/>
<line x1="256.6" y1="795.0" x2="256.6" y2="813.3" stroke="#1d3a5e" stroke-width="2.2"/><path d="M248.6,812.3 L264.6,812.3 L256.6,824.8 Z" fill="#1d3a5e"/>
<line x1="1243.0" y1="348.0" x2="1243.0" y2="360.0" stroke="#1f6fd0" stroke-width="2.6"/><path d="M1235.0,359.0 L1251.0,359.0 L1243.0,371.0 Z" fill="#1f6fd0"/>
<line x1="1243.0" y1="435.0" x2="1243.0" y2="446.0" stroke="#1f6fd0" stroke-width="2.6"/><path d="M1235.0,445.0 L1251.0,445.0 L1243.0,457.0 Z" fill="#1f6fd0"/>
<line x1="1243.0" y1="521.0" x2="1243.0" y2="531.7" stroke="#1f6fd0" stroke-width="2.6"/><path d="M1235.0,530.7 L1251.0,530.7 L1243.0,542.7 Z" fill="#1f6fd0"/>
<line x1="1243.0" y1="718.4" x2="1243.0" y2="729.2" stroke="#1f6fd0" stroke-width="2.6"/><path d="M1235.0,728.2 L1251.0,728.2 L1243.0,740.2 Z" fill="#1f6fd0"/>
<line x1="1243.0" y1="799.0" x2="1243.0" y2="810.5" stroke="#1f6fd0" stroke-width="2.6"/><path d="M1235.0,809.5 L1251.0,809.5 L1243.0,821.5 Z" fill="#1f6fd0"/>
<path d="M1235.0,634.0 L1251.0,634.0 L1243.0,646.0 Z" fill="#1d4a7e" stroke="#ffffff" stroke-width="3" stroke-linejoin="round"/><line x1="1243.0" y1="622.0" x2="1243.0" y2="635.0" stroke="#1d4a7e" stroke-width="2.6"/><path d="M1235.0,634.0 L1251.0,634.0 L1243.0,646.0 Z" fill="#1d4a7e"/>
<line x1="428" y1="325.3" x2="472" y2="325.3" stroke="#3a4a62" stroke-width="1.6" stroke-dasharray="4 3"/>
<path d="M471,320.8 L479,325.3 L471,329.8 Z" fill="#2e3e56"/>
<line x1="428" y1="421.0" x2="472" y2="421.0" stroke="#3a4a62" stroke-width="1.6" stroke-dasharray="4 3"/>
<path d="M471,416.5 L479,421.0 L471,425.5 Z" fill="#2e3e56"/>
<line x1="428" y1="513.7" x2="472" y2="513.7" stroke="#3a4a62" stroke-width="1.6" stroke-dasharray="4 3"/>
<path d="M471,509.2 L479,513.7 L471,518.2 Z" fill="#2e3e56"/>
<line x1="726.5" y1="324.8" x2="769.4" y2="324.8" stroke="#1a9a78" stroke-width="3"/>
<path d="M765.9,318.0 L779.4,324.8 L765.9,331.6 Z" fill="#1a9a78"/>
<line x1="728.4" y1="419.0" x2="769.4" y2="419.0" stroke="#1a9a78" stroke-width="3"/>
<path d="M765.9,412.2 L779.4,419.0 L765.9,425.8 Z" fill="#1a9a78"/>
<line x1="732.0" y1="512.6" x2="764.0" y2="512.6" stroke="#1a9a78" stroke-width="3"/>
<path d="M760.5,505.8 L774.0,512.6 L760.5,519.4 Z" fill="#1a9a78"/>
<path d="M978.8,335.0 Q1030.0,340.0 1082.0,326.5" fill="none" stroke="#1f9a70" stroke-width="2.2" stroke-dasharray="5.5 4.5"/><path d="M1082.7,334.5 L1095.5,323.3 L1079.1,319.0 Z" fill="#16936a"/>
<path d="M978.8,427.0 Q1030.0,428.0 1079.0,412.5" fill="none" stroke="#1f9a70" stroke-width="2.2" stroke-dasharray="5.5 4.5"/><path d="M1079.8,420.6 L1092.0,408.8 L1075.4,405.2 Z" fill="#16936a"/>
<path d="M978.8,510.0 Q1030.0,511.0 1081.0,503.5" fill="none" stroke="#1f9a70" stroke-width="2.2" stroke-dasharray="5.5 4.5"/><path d="M1081.0,511.6 L1094.5,501.3 L1078.4,495.8 Z" fill="#16936a"/>
<path d="M982.7,781.3 Q1005.0,787.5 1036.0,786.3" fill="none" stroke="#1f9a70" stroke-width="2.2" stroke-dasharray="5.5 4.5"/><path d="M1032.7,794.3 L1047.7,786.3 L1032.7,778.3 Z" fill="#16936a"/>
<line x1="247.2" y1="751.8" x2="263.8" y2="751.8" stroke="#1f3450" stroke-width="3.0" stroke-linecap="round"/><path d="M261.8,744.9 L271.8,751.8 L261.8,758.7 L264.0,751.8 Z" fill="#1f3450"/>
<line x1="1202.3" y1="855.4" x2="1217.1" y2="855.4" stroke="#17875f" stroke-width="3.0" stroke-linecap="round"/><path d="M1215.1,848.7 L1224.6,855.4 L1215.1,862.1 L1217.3,855.4 Z" fill="#17875f"/>
<circle cx="275.6" cy="854.9" r="2.2" fill="#b8323e"/>
<circle cx="1231" cy="925.2" r="2.1" fill="#1a8a68"/>
</svg>
</body></html>
